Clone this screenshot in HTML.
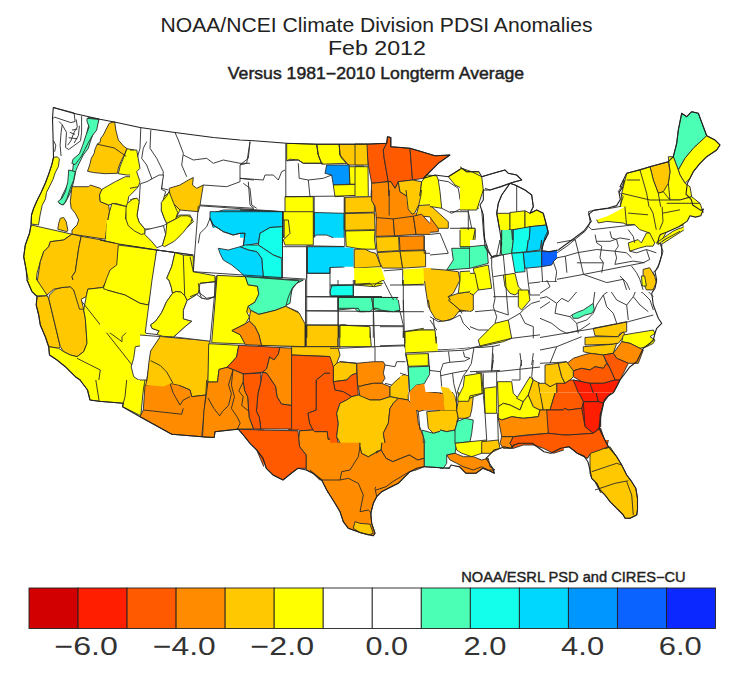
<!DOCTYPE html>
<html><head><meta charset="utf-8"><style>
html,body{margin:0;padding:0;background:#fff;overflow:hidden}
svg{display:block}
text{font-family:"Liberation Sans",sans-serif;fill:#222}
.t1{font-size:19.5px}
.t3{font-size:16.3px;stroke:#222;stroke-width:0.45px}
.lab{font-size:25.5px;fill:#333}
.cr{font-size:14px;stroke:#222;stroke-width:0.4px}
.b{fill:none;stroke:#2a2a2a;stroke-width:0.9;stroke-linejoin:round}
.l{fill:none;stroke:#2a2a2a;stroke-width:0.9;stroke-linejoin:round}
.o{fill:none;stroke:#222;stroke-width:1.1;stroke-linejoin:round}
</style></head><body>
<svg width="743" height="681" viewBox="0 0 743 681">
<text x="160.5" y="31.5" class="t1" textLength="432" lengthAdjust="spacingAndGlyphs">NOAA/NCEI Climate Division PDSI Anomalies</text>
<text x="327.9" y="54.7" class="t1" textLength="98" lengthAdjust="spacingAndGlyphs">Feb 2012</text>
<text x="227.8" y="78.9" class="t3" textLength="296.3" lengthAdjust="spacingAndGlyphs">Versus 1981−2010 Longterm Average</text>
<text x="461.3" y="582.2" class="cr" textLength="224.3" lengthAdjust="spacingAndGlyphs">NOAA/ESRL PSD and CIRES−CU</text>
<polygon points="88.3,117.5 99.2,119.2 96.7,125 94.2,131.7 90.8,140 88.3,148.3 83.3,155 80.8,160 77.5,166.7 75.8,170.8 75,175 73.3,183.3 70,193.3 65.8,201.7 63.3,205 59.2,203.3 62.5,195 66.7,186.7 70.8,178.3 72.5,171.7 73.3,165 75,158.3 80.8,155 84.2,148.3 85.8,138.3 87.5,130 89.2,123.3" fill="#4BFFB4"/>
<path d="M88.3 117.5L99.2 119.2L96.7 125L94.2 131.7L90.8 140L88.3 148.3L83.3 155L80.8 160L77.5 166.7L75.8 170.8L75 175L73.3 183.3L70 193.3L65.8 201.7L63.3 205L59.2 203.3L62.5 195L66.7 186.7L70.8 178.3L72.5 171.7L73.3 165L75 158.3L80.8 155L84.2 148.3L85.8 138.3L87.5 130L89.2 123.3L88.3 117.5" class="b"/>
<polygon points="103.3,135 109.2,123.3 114.7,121.7 115.8,130 118.3,140 123.3,145.8 127,148.7 124.2,155 120.8,161.7 118.3,168.3 117.5,173.3 105,173.7 93.3,172.5 87.5,171.3 89.7,165 91.3,158.3 94.2,153.3 95,149.2 97.5,143.7 100,142.5 100.8,138.3" fill="#FFC800"/>
<path d="M103.3 135L109.2 123.3L114.7 121.7L115.8 130L118.3 140L123.3 145.8L127 148.7L124.2 155L120.8 161.7L118.3 168.3L117.5 173.3L105 173.7L93.3 172.5L87.5 171.3L89.7 165L91.3 158.3L94.2 153.3L95 149.2L97.5 143.7L100 142.5L100.8 138.3L103.3 135" class="b"/>
<polygon points="127,148.7 134.2,150 134.2,160 133.3,175 126.7,175 118.3,173.7 120,166.7 123.3,158.3" fill="#FFFF00"/>
<path d="M127 148.7L134.2 150L134.2 160L133.3 175L126.7 175L118.3 173.7L120 166.7L123.3 158.3L127 148.7" class="b"/>
<polygon points="53.5,157.4 57.3,156.8 59.4,159 58.4,166.5 55.1,173 53,179.4 49.8,185.9 46.5,192.4 45.5,198.8 42.2,205.3 40.1,215 38.5,225 31,224 31.5,215 33.6,208.5 36.8,201 41.1,192.4 45.5,182.7 48.7,174.1 51.9,164.4" fill="#FFFF00"/>
<path d="M53.5 157.4L57.3 156.8L59.4 159L58.4 166.5L55.1 173L53 179.4L49.8 185.9L46.5 192.4L45.5 198.8L42.2 205.3L40.1 215L38.5 225L31 224L31.5 215L33.6 208.5L36.8 201L41.1 192.4L45.5 182.7L48.7 174.1L51.9 164.4L53.5 157.4" class="b"/>
<polygon points="68.7,170 75.3,171.7 73.7,180 70.3,188.3 67,198.3 64.5,203.3 62,205 57.8,201.7 62,198.3 65.3,191.7 67.8,181.7" fill="#4BFFB4"/>
<path d="M68.7 170L75.3 171.7L73.7 180L70.3 188.3L67 198.3L64.5 203.3L62 205L57.8 201.7L62 198.3L65.3 191.7L67.8 181.7L68.7 170" class="b"/>
<polygon points="72,186.7 88.7,186.7 90.3,185 100.3,188.3 102,190 99.5,195 100.3,201.7 108.7,205 109.5,211.7 107,225 105.3,239.2 72,234.2 72,230 77,225 78.7,220 75.3,213.3 71.2,208.3 70.3,201.7 71.2,193.3" fill="#FFC800"/>
<path d="M72 186.7L88.7 186.7L90.3 185L100.3 188.3L102 190L99.5 195L100.3 201.7L108.7 205L109.5 211.7L107 225L105.3 239.2L72 234.2L72 230L77 225L78.7 220L75.3 213.3L71.2 208.3L70.3 201.7L71.2 193.3L72 186.7" class="b"/>
<polygon points="60.3,218.3 63.7,217.5 66.2,221.7 67.8,230 67,231.7 57.8,229.2 58.7,223.3" fill="#FFC800"/>
<path d="M60.3 218.3L63.7 217.5L66.2 221.7L67.8 230L67 231.7L57.8 229.2L58.7 223.3L60.3 218.3" class="b"/>
<polygon points="102,189.2 115.3,181.7 125.3,176.7 135.3,176.7 138.7,183.3 137,188.3 128.7,196.7 127,206.7 115.3,203.3 108.7,205 100.3,201.7 99.5,195" fill="#FFFF00"/>
<path d="M102 189.2L115.3 181.7L125.3 176.7L135.3 176.7L138.7 183.3L137 188.3L128.7 196.7L127 206.7L115.3 203.3L108.7 205L100.3 201.7L99.5 195L102 189.2" class="b"/>
<polygon points="112,203.3 127,206.7 125.3,220 122,233.3 120.3,243.3 106.2,239.7 107,225 109.5,211.7" fill="#FFFF00"/>
<path d="M112 203.3L127 206.7L125.3 220L122 233.3L120.3 243.3L106.2 239.7L107 225L109.5 211.7L112 203.3" class="b"/>
<polygon points="31.2,225 72,234.2 63.7,240 50.3,241.7 48.7,246.7 43.7,251.7 40.3,261.7 37,273.3 36.2,282.8 28.7,282.8 26.2,270 23.7,256.7 25.3,245 29.5,233.3" fill="#FFFF00"/>
<path d="M31.2 225L72 234.2L63.7 240L50.3 241.7L48.7 246.7L43.7 251.7L40.3 261.7L37 273.3L36.2 282.8M28.7 282.8L26.2 270L23.7 256.7L25.3 245L29.5 233.3L31.2 225" class="b"/>
<polygon points="50.3,241.7 63.7,240 72,234.2 81.2,236.3 78.7,248.3 77,260 75.3,271.7 72,276.7 73.7,282.8 37,282.8 40.3,261.7 43.7,251.7 48.7,246.7" fill="#FFC800"/>
<path d="M50.3 241.7L63.7 240L72 234.2L81.2 236.3L78.7 248.3L77 260L75.3 271.7L72 276.7L73.7 282.8M37 282.8L40.3 261.7L43.7 251.7L48.7 246.7L50.3 241.7" class="b"/>
<polygon points="81.2,236.3 120.3,243.3 117.8,270 115.3,282.8 73.7,282.8 72,276.7 75.3,271.7 77,260 78.7,248.3" fill="#FFC800"/>
<path d="M81.2 236.3L120.3 243.3L117.8 270L115.3 282.8M73.7 282.8L72 276.7L75.3 271.7L77 260L78.7 248.3L81.2 236.3" class="b"/>
<polygon points="27,280 37,280 47,291.7 47,295.8 37,295.8 32,291.7" fill="#FFFF00"/>
<path d="M37 280L47 291.7L47 295.8L37 295.8L32 291.7L27 280" class="b"/>
<polygon points="37,296.7 47,295.8 48.7,298.3 60.3,346.7 58.7,348.3 48.7,346.7 45.3,336.7 40.3,325 38.7,315 36.2,305" fill="#FFC800"/>
<path d="M37 296.7L47 295.8L48.7 298.3L60.3 346.7L58.7 348.3L48.7 346.7L45.3 336.7L40.3 325L38.7 315L36.2 305L37 296.7" class="b"/>
<polygon points="49.5,295 55.3,289.2 62,287.5 70.3,286.7 73.7,290 78.7,301.7 83.7,310 85.3,318.3 86.2,330 87,343.3 83.7,351.7 77,356.7 70.3,355 63.7,351.7 60.3,346.7 48.7,298.3" fill="#FFC800"/>
<path d="M49.5 295L55.3 289.2L62 287.5L70.3 286.7L73.7 290L78.7 301.7L83.7 310L85.3 318.3L86.2 330L87 343.3L83.7 351.7L77 356.7L70.3 355L63.7 351.7L60.3 346.7L48.7 298.3L49.5 295" class="b"/>
<polygon points="37,280 107,280 102.8,287.5 87.8,289.2 86.2,296.7 81.2,299.2 83.7,309.2 79.5,309.2 73.7,290 70.3,286.7 62,287.5 53.7,289.2 47,295" fill="#FFC800"/>
<path d="M107 280L102.8 287.5L87.8 289.2L86.2 296.7L81.2 299.2L83.7 309.2L79.5 309.2L73.7 290L70.3 286.7L62 287.5L53.7 289.2L47 295L37 280" class="b"/>
<polygon points="107,280 145.8,280 145.8,392.8 93.7,392.8 85.3,383.3 75.3,376.7 65.3,366.7 57,360 49.5,355 48.7,346.7 58.7,348.3 63.7,351.7 70.3,355 77,356.7 83.7,351.7 87,343.3 86.2,330 85.3,318.3 83.7,310 86.2,296.7 87.8,289.2 102.8,287.5" fill="#FFFF00"/>
<path d="M93.7 392.8L85.3 383.3L75.3 376.7L65.3 366.7L57 360L49.5 355L48.7 346.7L58.7 348.3L63.7 351.7L70.3 355L77 356.7L83.7 351.7L87 343.3L86.2 330L85.3 318.3L83.7 310L86.2 296.7L87.8 289.2L102.8 287.5L107 280" class="b"/>
<polygon points="135.3,346.7 145.8,345 145.8,378.3 138.7,380 133.7,376.7 131.2,366.7 133.7,358.3" fill="#FFFFFF"/>
<path d="M135.3 346.7L145.8 345M145.8 378.3L138.7 380L133.7 376.7L131.2 366.7L133.7 358.3L135.3 346.7" class="b"/>
<path d="M82 301.7L132 365M103.7 290L125.3 296.7L145.8 305M103.7 328.3L122 341.7L122 336.7L128.7 330L135.3 325L138.7 330L145.8 330M77 358.3L100.3 370L97 392.8M128.7 380L125.3 392.8" class="l"/>
<polygon points="80,380 145,380 143.3,390 140.8,415.8 122.5,406.7 123.3,403.3 99.2,401.3 90,400 87.5,390" fill="#FFFF00"/>
<path d="M145 380L143.3 390L140.8 415.8L122.5 406.7L123.3 403.3L99.2 401.3L90 400L87.5 390L80 380" class="b"/>
<polygon points="161.7,336.7 210,340.8 207.5,392.8 201.7,392.8 191.7,386.7 180,381.7 171.7,380 170,373.3 161.7,366.7 153.3,361.7 150,351.7 161.7,348.3" fill="#FFC800"/>
<path d="M161.7 336.7L210 340.8L207.5 392.8M201.7 392.8L191.7 386.7L180 381.7L171.7 380L170 373.3L161.7 366.7L153.3 361.7L150 351.7L161.7 348.3L161.7 336.7" class="b"/>
<polygon points="140,335 161.7,336.7 160,346.7 151.7,350 150,360 146.7,380 140,380" fill="#FFFFFF"/>
<path d="M140 335L161.7 336.7L160 346.7L151.7 350L150 360L146.7 380L140 380" class="b"/>
<polygon points="118.3,245 156.7,250 152,290 148.3,305 140,303.3 125,295 106.7,290 103.3,288.3 106.7,278.3 110,270 116.7,265" fill="#FFFF00"/>
<path d="M118.3 245L156.7 250L152 290L148.3 305L140 303.3L125 295L106.7 290L103.3 288.3L106.7 278.3L110 270L116.7 265L118.3 245" class="b"/>
<polygon points="100,290 106.7,290 125,295 140,303.3 148.3,305 146.7,332.8 100,332.8" fill="#FFFF00"/>
<polygon points="106.7,220 121.7,220 120,244.2 105.8,241.7" fill="#FFFF00"/>
<polygon points="125,220 143.3,230 156.7,246.7 156.7,250 120,244.2 121.7,220" fill="#FFFF00"/>
<polygon points="166.7,220 190,220 180,236.7 165,246.7" fill="#FFFF00"/>
<polygon points="156.7,250 175,252.5 171.7,266.7 166.7,278.3 168.9,280 171.3,287.3 172.5,293.3 166.5,301.8 161.6,312.7 155.6,321.2 150.7,324.8 152,328.4 159.2,330.9 156.8,334.5 145.9,333.3 145.3,332.1 152,280" fill="#FFFFFF"/>
<path d="M156.7 250L175 252.5L171.7 266.7L166.7 278.3L168.9 280L171.3 287.3L172.5 293.3L166.5 301.8L161.6 312.7L155.6 321.2L150.7 324.8L152 328.4L159.2 330.9L156.8 334.5L145.9 333.3L145.3 332.1L152 280L156.7 250" class="b"/>
<polygon points="175,252.5 183.3,255 193.3,255.8 193.3,275 215,276.7 215.5,281.2 198,282.4 199.2,289.7 196.8,294.5 187.1,300.6 184.7,295.7 181,292.1 176.2,291.5 172.5,293.3 171.3,287.3 168.9,280 166.7,278.3 171.7,266.7" fill="#FFFF00"/>
<path d="M175 252.5L183.3 255L193.3 255.8L193.3 275L215 276.7L215.5 281.2L198 282.4L199.2 289.7L196.8 294.5L187.1 300.6L184.7 295.7L181 292.1L176.2 291.5L172.5 293.3L171.3 287.3L168.9 280L166.7 278.3L171.7 266.7L175 252.5" class="b"/>
<polygon points="172.5,293.3 176.2,291.5 181,292.1 184.7,295.7 187.1,300.6 183.4,310.3 183.4,318.8 191.9,321.2 185.9,326 173.8,336.9 162.9,336.3 156.8,334.5 159.2,330.9 152,328.4 150.7,324.8 155.6,321.2 161.6,312.7 166.5,301.8" fill="#FFFF00"/>
<path d="M172.5 293.3L176.2 291.5L181 292.1L184.7 295.7L187.1 300.6L183.4 310.3L183.4 318.8L191.9 321.2L185.9 326L173.8 336.9L162.9 336.3L156.8 334.5L159.2 330.9L152 328.4L150.7 324.8L155.6 321.2L161.6 312.7L166.5 301.8L172.5 293.3" class="b"/>
<polygon points="198,282.4 215.5,281.2 214.3,297 207.7,299.4 201.6,298.2 199.2,292.1" fill="#FFFFFF"/>
<path d="M198 282.4L215.5 281.2L214.3 297L207.7 299.4L201.6 298.2L199.2 292.1L198 282.4" class="b"/>
<polygon points="187.1,300.6 196.8,294.5 201.6,298.2 207.7,299.4 214.3,297 210.1,341.2 173.8,336.9 185.9,326 191.9,321.2 183.4,318.8 183.4,310.3" fill="#FFFFFF"/>
<path d="M187.1 300.6L196.8 294.5L201.6 298.2L207.7 299.4L214.3 297L210.1 341.2L173.8 336.9L185.9 326L191.9 321.2L183.4 318.8L183.4 310.3L187.1 300.6" class="b"/>
<path d="M95.8 380L99.2 401.3M126.7 380L125 396.7L123.3 403.3M100 240L120 244.2L156.7 250L193.3 255M106.7 290L125 295L140 303.3L148.3 305M125 220L143.3 230L156.7 246.7M183.3 255L184.7 295.7" class="l"/>
<polygon points="146.7,380 206.7,380 205.8,395 191.7,396.7 190,390 178.3,385 170,383.3 146.7,385" fill="#FFC800"/>
<path d="M206.7 380L205.8 395L191.7 396.7L190 390L178.3 385L170 383.3L146.7 385L146.7 380" class="b"/>
<polygon points="145,385 170,383.3 178.3,385 190,390 191.7,396.7 205.8,395 201.7,436.7 171.7,434.2 140,416.7 143.3,410" fill="#FF8C00"/>
<path d="M145 385L170 383.3L178.3 385L190 390L191.7 396.7L205.8 395L201.7 436.7L171.7 434.2L140 416.7L143.3 410L145 385" class="b"/>
<polygon points="238.3,429.2 263.8,430 263.8,466.7 256.7,450 250,443.3 243.3,435" fill="#FF5A00"/>
<path d="M238.3 429.2L263.8 430M263.8 466.7L256.7 450L250 443.3L243.3 435L238.3 429.2" class="b"/>
<path d="M143.3 410L181.7 414.2L183.3 408.3M170 383.3L173.3 393.3L180 405L183.3 400L190 396.7" class="l"/>
<polygon points="258,280 303,280 293,285 291.3,293.3 286.3,305 276.3,311.7 268,313.3 258,315" fill="#4BFFB4"/>
<path d="M303 280L293 285L291.3 293.3L286.3 305L276.3 311.7L268 313.3L258 315" class="b"/>
<polygon points="258,315.8 268,313.3 276.3,311.7 286.3,306.7 298,311.7 301.3,321.7 305.5,325.8 305.5,346.7 258,345" fill="#FFC800"/>
<path d="M258 315.8L268 313.3L276.3 311.7L286.3 306.7L298 311.7L301.3 321.7L305.5 325.8L305.5 346.7L258 345" class="b"/>
<polygon points="331.3,285 353,285 353,295.8 331.3,296.7" fill="#14FFEB"/>
<path d="M331.3 285L353 285L353 295.8L331.3 296.7L331.3 285" class="b"/>
<polygon points="354.7,280 381.8,280 381.8,285 374.7,286.7 354.7,285" fill="#FFFF00"/>
<path d="M381.8 285L374.7 286.7L354.7 285L354.7 280" class="b"/>
<polygon points="338,296.7 381.8,296.7 381.8,310.8 374.7,310 373,301.7 371.3,310 364.7,311.7 358,311.7 354.7,308.3 338,310" fill="#4BFFB4"/>
<path d="M338 296.7L381.8 296.7M381.8 310.8L374.7 310L373 301.7L371.3 310L364.7 311.7L358 311.7L354.7 308.3L338 310L338 296.7" class="b"/>
<polygon points="306.3,325.8 338,325.8 338,346.7 306.3,346.7" fill="#FFC800"/>
<path d="M306.3 325.8L338 325.8L338 346.7L306.3 346.7L306.3 325.8" class="b"/>
<polygon points="339.7,325 344.7,324.7 351.3,326.7 369.7,327.5 371.3,346.7 339.7,346.7" fill="#FFFF00"/>
<path d="M339.7 325L344.7 324.7L351.3 326.7L369.7 327.5L371.3 346.7L339.7 346.7L339.7 325" class="b"/>
<polygon points="291.3,346.7 339.7,346.7 341.3,353.3 338,356.7 334.7,356.7 291.3,355" fill="#FFC800"/>
<path d="M291.3 346.7L339.7 346.7L341.3 353.3L338 356.7L334.7 356.7L291.3 355L291.3 346.7" class="b"/>
<polygon points="339.7,353.3 341.3,363.3 356.3,363.3 356.3,376.7 351.3,380 334.7,380 333,368.3 336.3,360" fill="#FFC800"/>
<path d="M339.7 353.3L341.3 363.3L356.3 363.3L356.3 376.7L351.3 380L334.7 380L333 368.3L336.3 360L339.7 353.3" class="b"/>
<polygon points="358,363.3 381.8,361.7 381.8,380 374.7,383.3 361.3,386.7 358,380" fill="#FF8C00"/>
<path d="M358 363.3L381.8 361.7M381.8 380L374.7 383.3L361.3 386.7L358 380L358 363.3" class="b"/>
<polygon points="291.3,355 331.3,356.7 332.2,373.3 324.7,373.3 316.3,380 318,392.8 291.3,392.8" fill="#FF5A00"/>
<path d="M291.3 355L331.3 356.7L332.2 373.3L324.7 373.3L316.3 380L318 392.8M291.3 392.8L291.3 355" class="b"/>
<polygon points="332.2,373.3 336.3,378.3 351.3,380 356.3,373.3 358,392.8 318,392.8 316.3,380 324.7,373.3" fill="#FF5A00"/>
<path d="M332.2 373.3L336.3 378.3L351.3 380L356.3 373.3L358 392.8M318 392.8L316.3 380L324.7 373.3L332.2 373.3" class="b"/>
<polygon points="358,380 381.8,380 381.8,392.8 358,392.8" fill="#FF8C00"/>
<path d="M358 380L381.8 380M358 392.8L358 380" class="b"/>
<path d="M305.5 280L305.5 346.7M306.3 296.7L381.8 296.7M306.3 310.8L338 310.8M338 280L338 346.7M373 296.7L374.7 346.7M373 346.7L374.7 355L381.8 355" class="l"/>
<polygon points="258,430 298,430.8 298.8,438.3 299.7,446.7 306.3,455 306.3,468.3 298,468.3 291.3,473.3 283,480 273,475 266.3,468.3 263,458.3 258,451.7" fill="#FF5A00"/>
<path d="M258 430L298 430.8L298.8 438.3L299.7 446.7L306.3 455L306.3 468.3L298 468.3L291.3 473.3L283 480L273 475L266.3 468.3L263 458.3L258 451.7" class="b"/>
<polygon points="288.8,380 316.3,380 316.3,410 308,413.3 309.7,423.3 313,430 299.7,430.8 298.8,430 288.8,430" fill="#FF5A00"/>
<path d="M316.3 380L316.3 410L308 413.3L309.7 423.3L313 430L299.7 430.8L298.8 430L288.8 430L288.8 380" class="b"/>
<polygon points="316.3,380 333,380 334.7,388.3 346.3,395 351.3,398.3 339.7,408.3 338,418.3 341.3,430 341.3,440 328,439.2 327.2,431.7 314.7,431.7 313,430 309.7,423.3 308,413.3 316.3,410" fill="#FF5A00"/>
<path d="M333 380L334.7 388.3L346.3 395L351.3 398.3L339.7 408.3L338 418.3L341.3 430L341.3 440L328 439.2L327.2 431.7L314.7 431.7L313 430L309.7 423.3L308 413.3L316.3 410L316.3 380" class="b"/>
<polygon points="333,380 358,380 358,395 346.3,395 334.7,388.3" fill="#FF5A00"/>
<path d="M358 380L358 395L346.3 395L334.7 388.3L333 380" class="b"/>
<polygon points="358,380 381.8,380 381.8,400 366.3,398.3 358,395" fill="#FF8C00"/>
<path d="M381.8 400L366.3 398.3L358 395L358 380" class="b"/>
<polygon points="351.3,398.3 361.3,396.7 373,401.7 381.8,400.8 381.8,448.3 374.7,453.3 366.3,455 361.3,450 358,443.3 351.3,441.7 341.3,440 341.3,430 338,418.3 339.7,408.3" fill="#FFC800"/>
<path d="M351.3 398.3L361.3 396.7L373 401.7L381.8 400.8M381.8 448.3L374.7 453.3L366.3 455L361.3 450L358 443.3L351.3 441.7L341.3 440L341.3 430L338 418.3L339.7 408.3L351.3 398.3" class="b"/>
<polygon points="299.7,430.8 313,430 314.7,431.7 327.2,431.7 328,439.2 341.3,440 351.3,441.7 358,443.3 361.3,450 358,460 351.3,470 341.3,471.7 339.7,480 324.7,480 319.7,480 313,473.3 306.3,470 306.3,455 299.7,446.7 298.8,438.3" fill="#FF8C00"/>
<path d="M299.7 430.8L313 430L314.7 431.7L327.2 431.7L328 439.2L341.3 440L351.3 441.7L358 443.3L361.3 450L358 460L351.3 470L341.3 471.7L339.7 480L324.7 480L319.7 480L313 473.3L306.3 470L306.3 455L299.7 446.7L298.8 438.3L299.7 430.8" class="b"/>
<polygon points="324.7,480 339.7,480 341.3,471.7 351.3,470 358,460 361.3,450 366.3,455 374.7,453.3 381.8,450 381.8,492.8 328,492.8" fill="#FF8C00"/>
<path d="M324.7 480L339.7 480L341.3 471.7L351.3 470L358 460L361.3 450L366.3 455L374.7 453.3L381.8 450M328 492.8L324.7 480" class="b"/>
<polygon points="310,440 360,440 360,446.7 361.7,453.3 368.3,456.7 380,450 381.7,440 425,440 425,465 423.3,466.7 416.7,468.3 410,471.7 405,476.7 398.3,483.3 388.3,488.3 381.7,491.7 376.7,496.7 373.3,503.3 370.8,513.3 371.7,523.3 375,533.3 373.3,535.8 360,532.5 348.3,528.3 343.3,521.7 340,511.7 335,503.3 326.7,490 321.7,480 310,470" fill="#FF8C00"/>
<path d="M360 440L360 446.7L361.7 453.3L368.3 456.7L380 450L381.7 440M425 440L425 465L423.3 466.7L416.7 468.3L410 471.7L405 476.7L398.3 483.3L388.3 488.3L381.7 491.7L376.7 496.7L373.3 503.3L370.8 513.3L371.7 523.3L375 533.3L373.3 535.8L360 532.5L348.3 528.3L343.3 521.7L340 511.7L335 503.3L326.7 490L321.7 480L310 470" class="b"/>
<polygon points="360,440 381.7,440 380,450 368.3,456.7 361.7,453.3 360,446.7" fill="#FFC800"/>
<path d="M381.7 440L380 450L368.3 456.7L361.7 453.3L360 446.7L360 440" class="b"/>
<polygon points="355,521.7 360,523.3 370,524.2 373.3,533.3 368.3,535 360,532.5 353.3,528.3" fill="#FFC800"/>
<path d="M355 521.7L360 523.3L370 524.2L373.3 533.3L368.3 535L360 532.5L353.3 528.3L355 521.7" class="b"/>
<polygon points="425,440 433.8,440 433.8,465.8 425,465.8" fill="#4BFFB4"/>
<path d="M433.8 465.8L425 465.8L425 440" class="b"/>
<path d="M321.7 480L340 480L341.7 471.7L350 470L358.3 456.7L360 446.7M340 480L348.3 478.3L358.3 483.3L363.3 495L360 511.7L368.3 510L371.7 513.3M376.7 496.7L375 488.3L380 481.7L388.3 473.3L391.7 465L388.3 453.3L380 450M391.7 465L403.3 456.7L410 455L423.3 456.7" class="l"/>
<polygon points="389.3,400 399.3,398.3 409.3,398.3 414.3,400 417.7,411.7 419.3,430 424.3,443.3 424.3,458.3 417.7,460 409.3,455 401,458.3 392.7,461.7 386,458.3 381,450 382.7,435 384.3,425 387.7,413.3" fill="#FF8C00"/>
<path d="M389.3 400L399.3 398.3L409.3 398.3L414.3 400L417.7 411.7L419.3 430L424.3 443.3L424.3 458.3L417.7 460L409.3 455L401 458.3L392.7 461.7L386 458.3L381 450L382.7 435L384.3 425L387.7 413.3L389.3 400" class="b"/>
<polygon points="376,401.7 387.7,401.7 384.3,425 382.7,435 381,450 376,451.7" fill="#FFC800"/>
<path d="M376 401.7L387.7 401.7L384.3 425L382.7 435L381 450L376 451.7" class="b"/>
<polygon points="376,453.3 381,450 386,458.3 392.7,461.7 401,458.3 409.3,455 417.7,460 424.3,458.3 424.3,466.7 416,470 409.3,471.7 401,476.7 392.7,481.7 386,486.7 376,490" fill="#FF8C00"/>
<path d="M376 453.3L381 450L386 458.3L392.7 461.7L401 458.3L409.3 455L417.7 460L424.3 458.3L424.3 466.7L416 470L409.3 471.7L401 476.7L392.7 481.7L386 486.7L376 490" class="b"/>
<polygon points="376,383.3 389.3,383.3 391,398.3 376,400" fill="#FF8C00"/>
<path d="M376 383.3L389.3 383.3L391 398.3L376 400" class="b"/>
<polygon points="389.3,380 409.3,380 408.5,398.3 391,398.3 389.3,386.7" fill="#FFC800"/>
<path d="M409.3 380L408.5 398.3L391 398.3L389.3 386.7L389.3 380" class="b"/>
<polygon points="409.3,380 424.3,380 422.7,385 414.3,388.3 411,391.7 409.3,390" fill="#4BFFB4"/>
<path d="M424.3 380L422.7 385L414.3 388.3L411 391.7L409.3 390L409.3 380" class="b"/>
<polygon points="409.3,390 424.3,385 426,410 417.7,411.7 414.3,400 409.3,398.3" fill="#FF8C00"/>
<path d="M409.3 390L424.3 385L426 410L417.7 411.7L414.3 400L409.3 398.3L409.3 390" class="b"/>
<polygon points="424.3,390 444.3,393.3 444.3,410 426,410" fill="#FF8C00"/>
<path d="M424.3 390L444.3 393.3L444.3 410L426 410L424.3 390" class="b"/>
<polygon points="441,386.7 449.3,388.3 454.3,400 457.7,410 444.3,410 444.3,393.3" fill="#FFC800"/>
<path d="M441 386.7L449.3 388.3L454.3 400L457.7 410L444.3 410L444.3 393.3L441 386.7" class="b"/>
<polygon points="417.7,411.7 426,411.7 427.7,426.7 421,430 417.7,421.7" fill="#FFFFFF"/>
<path d="M417.7 411.7L426 411.7L427.7 426.7L421 430L417.7 421.7L417.7 411.7" class="b"/>
<polygon points="426,410 444.3,410 446,428.3 439.3,430 432.7,431.7 427.7,426.7" fill="#FFC800"/>
<path d="M426 410L444.3 410L446 428.3L439.3 430L432.7 431.7L427.7 426.7L426 410" class="b"/>
<polygon points="444.3,410 457.7,410 459.3,423.3 454.3,428.3 446,428.3" fill="#FFC800"/>
<path d="M444.3 410L457.7 410L459.3 423.3L454.3 428.3L446 428.3L444.3 410" class="b"/>
<polygon points="421,430 427.7,426.7 432.7,431.7 439.3,430 454.3,428.3 456,443.3 459.3,453.3 447.7,456.7 446,461.7 449.3,468.3 424.3,466.7 424.3,443.3" fill="#4BFFB4"/>
<path d="M421 430L427.7 426.7L432.7 431.7L439.3 430L454.3 428.3L456 443.3L459.3 453.3L447.7 456.7L446 461.7L449.3 468.3L424.3 466.7L424.3 443.3L421 430" class="b"/>
<polygon points="457.7,420 469.3,418.3 472.7,423.3 471,436.7 469.3,443.3 454.3,443.3 456,430" fill="#4BFFB4"/>
<path d="M457.7 420L469.3 418.3L472.7 423.3L471 436.7L469.3 443.3L454.3 443.3L456 430L457.7 420" class="b"/>
<polygon points="447.7,456.7 459.3,455 467.7,458.3 479.3,460 484.3,461.7 492.7,468.3 494.3,473.3 489.3,470.8 482.7,468.3 476,473.3 466,473.3 459.3,466.7 451,465 446,461.7" fill="#FF8C00"/>
<path d="M447.7 456.7L459.3 455L467.7 458.3L479.3 460L484.3 461.7L492.7 468.3L494.3 473.3L489.3 470.8L482.7 468.3L476 473.3L466 473.3L459.3 466.7L451 465L446 461.7L447.7 456.7" class="b"/>
<polygon points="454.3,443.3 481,441.7 482.7,453.3 476,455 467.7,453.3 459.3,453.3 456,443.3" fill="#FFFF00"/>
<path d="M454.3 443.3L481 441.7L482.7 453.3L476 455L467.7 453.3L459.3 453.3L456 443.3L454.3 443.3" class="b"/>
<polygon points="481,441.7 499.8,440 499.8,451.7 492.7,450 486,453.3 482.7,453.3" fill="#FFC800"/>
<path d="M481 441.7L499.8 440M499.8 451.7L492.7 450L486 453.3L482.7 453.3L481 441.7" class="b"/>
<polygon points="471,396.7 484.3,396.7 486,421.7 486,440 471,440 472.7,423.3 469.3,418.3 471,410" fill="#FFFFFF"/>
<path d="M471 396.7L484.3 396.7L486 421.7L486 440L471 440L472.7 423.3L469.3 418.3L471 410L471 396.7" class="b"/>
<polygon points="484.3,415 497.7,413.3 499.3,440 486,440" fill="#FFFFFF"/>
<path d="M484.3 415L497.7 413.3L499.3 440L486 440L484.3 415" class="b"/>
<polygon points="459.3,380 469.3,380 471.8,393.3 459.3,400" fill="#FFFF00"/>
<path d="M469.3 380L471.8 393.3L459.3 400L459.3 380" class="b"/>
<polygon points="457.7,395 469.3,393.3 471,410 469.3,418.3 457.7,420 456,410 457.7,400" fill="#FFC800"/>
<path d="M457.7 395L469.3 393.3L471 410L469.3 418.3L457.7 420L456 410L457.7 400L457.7 395" class="b"/>
<polygon points="469.3,380 482.7,380 484.3,396.7 471,396.7 469.3,388.3" fill="#FFFF00"/>
<path d="M482.7 380L484.3 396.7L471 396.7L469.3 388.3L469.3 380" class="b"/>
<polygon points="484.3,386.7 496,385 497.7,413.3 484.3,415" fill="#FFFF00"/>
<path d="M484.3 386.7L496 385L497.7 413.3L484.3 415L484.3 386.7" class="b"/>
<polygon points="439.3,380 457.7,380 457.7,388.3 449.3,388.3 442.7,386.7" fill="#FFFFFF"/>
<path d="M457.7 380L457.7 388.3L449.3 388.3L442.7 386.7L439.3 380" class="b"/>
<polygon points="424.3,380 439.3,380 441,386.7 424.3,390" fill="#FFFFFF"/>
<path d="M439.3 380L441 386.7L424.3 390L424.3 380" class="b"/>
<polygon points="497.3,382.5 512.3,382.5 513.2,390 517.3,398.3 524,403.3 524.8,409.2 537.3,409.2 539,415.8 527.3,416.7 519,417.5 509,415 504,420 499,418.3 498.2,405" fill="#FFFF00"/>
<path d="M497.3 382.5L512.3 382.5L513.2 390L517.3 398.3L524 403.3L524.8 409.2L537.3 409.2L539 415.8L527.3 416.7L519 417.5L509 415L504 420L499 418.3L498.2 405L497.3 382.5" class="b"/>
<polygon points="519,395 529,380 534,383.3 524,401.7" fill="#FFFF00"/>
<path d="M519 395L529 380L534 383.3L524 401.7L519 395" class="b"/>
<polygon points="512.3,380 522.3,380 519,393.3 514,393.3" fill="#FFFFFF"/>
<path d="M522.3 380L519 393.3L514 393.3L512.3 380" class="b"/>
<polygon points="532.3,383.3 539,383.3 544,406.7 542.3,408.3 524.8,409.2 524,403.3 534,386.7" fill="#FFC800"/>
<path d="M532.3 383.3L539 383.3L544 406.7L542.3 408.3L524.8 409.2L524 403.3L534 386.7L532.3 383.3" class="b"/>
<polygon points="539,383.3 555.7,383.3 559,396.7 560.7,406.7 550.7,410 544,408.3" fill="#FFC800"/>
<path d="M539 383.3L555.7 383.3L559 396.7L560.7 406.7L550.7 410L544 408.3L539 383.3" class="b"/>
<polygon points="499,418.3 504,420 509,415 519,417.5 527.3,416.7 539,415.8 544,408.3 545.7,411.7 547.3,431.7 527.3,435 510.7,436.7 500.7,436.7" fill="#FF8C00"/>
<path d="M499 418.3L504 420L509 415L519 417.5L527.3 416.7L539 415.8L544 408.3L545.7 411.7L547.3 431.7L527.3 435L510.7 436.7L500.7 436.7L499 418.3" class="b"/>
<polygon points="494,441.7 500.7,440 500.7,448.3 494,450" fill="#FFC800"/>
<path d="M494 441.7L500.7 440L500.7 448.3L494 450" class="b"/>
<polygon points="500.7,436.7 510.7,436.7 514,445 510.7,448.3 504,446.7 500.7,448.3" fill="#FF8C00"/>
<path d="M500.7 436.7L510.7 436.7L514 445L510.7 448.3L504 446.7L500.7 448.3L500.7 436.7" class="b"/>
<polygon points="510.7,436.7 567.3,433.3 565.7,443.3 560.7,448.3 550.7,453.3 544,450 535.7,445 527.3,443.3 519,443.3 514,445" fill="#FF5A00"/>
<path d="M510.7 436.7L567.3 433.3L565.7 443.3L560.7 448.3L550.7 453.3L544 450L535.7 445L527.3 443.3L519 443.3L514 445L510.7 436.7" class="b"/>
<polygon points="545.7,410 560.7,408.3 564,413.3 567.3,433.3 549,435 547.3,430" fill="#FF5A00"/>
<path d="M545.7 410L560.7 408.3L564 413.3L567.3 433.3L549 435L547.3 430L545.7 410" class="b"/>
<polygon points="560.7,408.3 579,410 584,430 587.3,433.3 567.3,433.3 564,413.3" fill="#FF5A00"/>
<path d="M560.7 408.3L579 410L584 430L587.3 433.3L567.3 433.3L564 413.3L560.7 408.3" class="b"/>
<polygon points="557.3,383.3 574,381.7 579,396.7 580.7,410 560.7,408.3 559,396.7" fill="#FF5A00"/>
<path d="M557.3 383.3L574 381.7L579 396.7L580.7 410L560.7 408.3L559 396.7L557.3 383.3" class="b"/>
<polygon points="574,381.7 587.3,380 594,390 597.3,401.7 600.7,403.3 600.7,426.7 592.3,433.3 587.3,433.3 584,430 580.7,410 579,396.7" fill="#FF1E00"/>
<path d="M574 381.7L587.3 380L594 390L597.3 401.7L600.7 403.3L600.7 426.7L592.3 433.3L587.3 433.3L584 430L580.7 410L579 396.7L574 381.7" class="b"/>
<polygon points="594,380 617.8,380 614,388.3 609,395 604,401.7 600.7,403.3 597.3,401.7 594,390" fill="#FF1E00"/>
<path d="M617.8 380L614 388.3L609 395L604 401.7L600.7 403.3L597.3 401.7L594 390L594 380" class="b"/>
<polygon points="567.3,433.3 592.3,433.3 600.7,428.3 604,438.3 609,448.3 600.7,450 590.7,453.3 587.3,458.3 577.3,453.3 565.7,443.3" fill="#FF5A00"/>
<path d="M567.3 433.3L592.3 433.3L600.7 428.3L604 438.3L609 448.3L600.7 450L590.7 453.3L587.3 458.3L577.3 453.3L565.7 443.3L567.3 433.3" class="b"/>
<polygon points="590.7,453.3 600.7,450 609,448.3 614,458.3 617.3,463.3 594,473.3 592.3,463.3" fill="#FFC800"/>
<path d="M590.7 453.3L600.7 450L609 448.3L614 458.3L617.3 463.3L594 473.3L592.3 463.3L590.7 453.3" class="b"/>
<polygon points="594,473.3 617.3,463.3 617.8,492.8 600.7,492.8 595.7,483.3" fill="#FFC800"/>
<path d="M594 473.3L617.3 463.3L617.8 492.8M600.7 492.8L595.7 483.3L594 473.3" class="b"/>
<polygon points="560,440 608.3,440 606.7,448.3 598.3,448.3 590,450 585,455 576.7,450 566.7,443.3 560,445" fill="#FF5A00"/>
<path d="M608.3 440L606.7 448.3L598.3 448.3L590 450L585 455L576.7 450L566.7 443.3L560 445" class="b"/>
<polygon points="590,450 598.3,448.3 606.7,448.3 610,446.7 616.7,456.7 621.7,465 626.7,475 631.7,481.7 635.8,488.3 637.5,498.3 637.5,510 636.7,515 630,518.3 625,518.3 623.3,515 616.7,508.3 610,501.7 605,495 600,490 596.7,483.3 591.7,478.3 590,473.3 590,465" fill="#FFC800"/>
<path d="M590 450L598.3 448.3L606.7 448.3L610 446.7L616.7 456.7L621.7 465L626.7 475L631.7 481.7L635.8 488.3L637.5 498.3L637.5 510L636.7 515L630 518.3L625 518.3L623.3 515L616.7 508.3L610 501.7L605 495L600 490L596.7 483.3L591.7 478.3L590 473.3L590 465L590 450" class="b"/>
<path d="M591.7 471.7L616.7 463.3L621.7 465M595 490L615 483.3L628.3 480.8M626.7 481.7L631.7 495L633.3 515" class="l"/>
<polygon points="169.2,188.3 180,185 188.3,180 193.3,177.5 192.5,185 196.7,188.3 203.3,185 200,205 198.3,211.7 180,210 173.3,203.3 170,196.7" fill="#FFC800"/>
<path d="M169.2 188.3L180 185L188.3 180L193.3 177.5L192.5 185L196.7 188.3L203.3 185L200 205L198.3 211.7L180 210L173.3 203.3L170 196.7L169.2 188.3" class="b"/>
<polygon points="161.7,198.3 168.3,193.3 173.3,203.3 180,210 176.7,216.7 171.7,221.7 166.7,221.7 163.3,215 160.8,205" fill="#FFFF00"/>
<path d="M161.7 198.3L168.3 193.3L173.3 203.3L180 210L176.7 216.7L171.7 221.7L166.7 221.7L163.3 215L160.8 205L161.7 198.3" class="b"/>
<polygon points="168.3,221.7 180,215 190,215 193.3,221.7 186.7,227.8 166.7,227.8" fill="#FFFF00"/>
<path d="M168.3 221.7L180 215L190 215L193.3 221.7L186.7 227.8M166.7 227.8L168.3 221.7" class="b"/>
<polygon points="130,150 136.7,150 140,168.3 136.7,171.7 140,181.7 138.3,186.7 130,188.3" fill="#FFFF00"/>
<path d="M130 150L136.7 150L140 168.3L136.7 171.7L140 181.7L138.3 186.7L130 188.3" class="b"/>
<polygon points="130,200 135,198.3 138.3,201.7 136.7,211.7 140,221.7 138.3,227.8 130,227.8" fill="#FFFF00"/>
<path d="M130 200L135 198.3L138.3 201.7L136.7 211.7L140 221.7L138.3 227.8" class="b"/>
<polygon points="211.7,213.3 223.3,210 238.3,210 253.8,210 253.8,227.8 213.3,227.8 210,218.3" fill="#00D7FF"/>
<path d="M211.7 213.3L223.3 210L238.3 210L253.8 210M213.3 227.8L210 218.3L211.7 213.3" class="b"/>
<path d="M175 132.5L178.3 140L183.3 153.3L181.7 165L186.7 176.7M183.3 155L193.3 160L206.7 158.3L213.3 163.3L223.3 160L240 163.3L250 163.3M250 141.7L246.7 163.3L240 165L240 181.7L226.7 186.7L203.3 185M240 178.3L253.8 180M248.3 181.7L250 205L253.8 208.3M200 205L253.8 208.3M150.8 130L150 148.3L156.7 158.3L163.3 171.7L161.7 188.3L168.3 190M140.8 127.5L140 148.3L137.5 156.7M146.7 141.7L143.3 148.3L141.7 158.3L146.7 165L151.7 178.3L146.7 185L141.7 185L140 198.3" class="l"/>
<polygon points="286.7,143.3 316.7,144.2 318.3,155 321.7,163.3 303.3,163.3 298.3,160 290,159.2 286.7,160.8" fill="#FFFF00"/>
<path d="M286.7 143.3L316.7 144.2L318.3 155L321.7 163.3L303.3 163.3L298.3 160L290 159.2L286.7 160.8L286.7 143.3" class="b"/>
<polygon points="316.7,144.2 339.2,144.2 340,155 346.7,163.3 321.7,164.2 318.3,155" fill="#FFFF00"/>
<path d="M316.7 144.2L339.2 144.2L340 155L346.7 163.3L321.7 164.2L318.3 155L316.7 144.2" class="b"/>
<polygon points="339.2,144.2 363.8,144.2 363.8,165 348.3,165 341.7,158.3 340,155" fill="#FFC800"/>
<path d="M339.2 144.2L363.8 144.2M363.8 165L348.3 165L341.7 158.3L340 155L339.2 144.2" class="b"/>
<polygon points="326.7,165 349.2,165 350,184.2 333.3,185 331.7,175 325,173.3" fill="#0096FF"/>
<path d="M326.7 165L349.2 165L350 184.2L333.3 185L331.7 175L325 173.3L326.7 165" class="b"/>
<polygon points="349.2,166.7 363.8,166.7 363.8,184.2 350,184.2" fill="#FFFF00"/>
<path d="M349.2 166.7L363.8 166.7M363.8 184.2L350 184.2L349.2 166.7" class="b"/>
<polygon points="333.3,185 363.8,184.2 363.8,195 335,196.7" fill="#FFFF00"/>
<path d="M333.3 185L363.8 184.2M363.8 195L335 196.7L333.3 185" class="b"/>
<polygon points="285,196.7 313.3,196.7 313.3,220 285,218.3" fill="#FFFF00"/>
<path d="M285 196.7L313.3 196.7L313.3 220L285 218.3L285 196.7" class="b"/>
<polygon points="284.2,218.3 313.3,220 313.3,237.8 284.2,237.8" fill="#FFFF00"/>
<path d="M284.2 218.3L313.3 220L313.3 237.8M284.2 237.8L284.2 218.3" class="b"/>
<polygon points="314.2,212.5 344.2,213.3 344.2,237.8 333.3,237.8 326.7,235 316.7,235 314.2,236.7" fill="#00D7FF"/>
<path d="M314.2 212.5L344.2 213.3L344.2 237.8M333.3 237.8L326.7 235L316.7 235L314.2 236.7L314.2 212.5" class="b"/>
<polygon points="344.2,197.5 363.8,196.7 363.8,212.5 344.2,213.3" fill="#FFC800"/>
<path d="M344.2 197.5L363.8 196.7M363.8 212.5L344.2 213.3L344.2 197.5" class="b"/>
<polygon points="344.2,214.2 363.8,213.3 363.8,230 344.2,230" fill="#FFC800"/>
<path d="M344.2 214.2L363.8 213.3M363.8 230L344.2 230L344.2 214.2" class="b"/>
<polygon points="240,210 283.3,211.7 283.3,237.8 240,237.8" fill="#00D7FF"/>
<path d="M240 210L283.3 211.7L283.3 237.8" class="b"/>
<polygon points="258.3,229.2 281.7,225.8 283.3,237.8 256.7,237.8" fill="#14FFEB"/>
<path d="M258.3 229.2L281.7 225.8L283.3 237.8M256.7 237.8L258.3 229.2" class="b"/>
<path d="M285.8 143.3L285.8 196.7M285 196.7L363.8 195.8M314.2 196.7L314.2 237.8M250 141.7L248.3 158.3L240 165M240 178.3L263.3 180L265 175L273.3 175L278.3 180L281.7 171.7L285 170M243.3 183.3L250 188.3L251.7 205L256.7 208.3M240 210L284.2 211.7M286.7 160.8L298.3 160L303.3 163.3L323.3 163.3M298.3 163.3L299.2 178.3L308.3 180L310 196.7M308.3 180L323.3 178.3L331.7 175M316.7 144.2L318.3 155L321.7 163.3M339.2 144.2L340 155L348.3 165" class="l"/>
<polygon points="210,211.7 282.5,211.7 282.5,226.7 270,227.5 260,233.3 258.3,243.3 243.3,245.8 245,233.3 240,233.3 233.3,235 223.3,231.7 213.3,225 210,218.3" fill="#00D7FF"/>
<path d="M210 211.7L282.5 211.7L282.5 226.7L270 227.5L260 233.3L258.3 243.3L243.3 245.8L245 233.3L240 233.3L233.3 235L223.3 231.7L213.3 225L210 218.3L210 211.7" class="b"/>
<polygon points="260,233.3 270,227.5 282.5,226.7 282.5,258.3 273.3,255 263.3,248.3 258.3,245" fill="#14FFEB"/>
<path d="M260 233.3L270 227.5L282.5 226.7L282.5 258.3L273.3 255L263.3 248.3L258.3 245L260 233.3" class="b"/>
<polygon points="240,246.7 245,245 258.3,245 263.3,248.3 273.3,255 281.7,258.3 281.7,278.3 263.3,277.5 261.7,258.3 256.7,251.7 248.3,250" fill="#14FFEB"/>
<path d="M240 246.7L245 245L258.3 245L263.3 248.3L273.3 255L281.7 258.3L281.7 278.3L263.3 277.5L261.7 258.3L256.7 251.7L248.3 250L240 246.7" class="b"/>
<polygon points="218.3,248.3 228.3,250 240,246.7 248.3,250 256.7,251.7 261.7,258.3 263.3,277.5 245,276.7 240,271.7 231.7,265 223.3,260 220,253.3" fill="#00D7FF"/>
<path d="M218.3 248.3L228.3 250L240 246.7L248.3 250L256.7 251.7L261.7 258.3L263.3 277.5L245 276.7L240 271.7L231.7 265L223.3 260L220 253.3L218.3 248.3" class="b"/>
<polygon points="246.7,277.5 303.3,280 296.7,283.3 291.7,290 290,303.3 283.3,306.7 273.3,310 261.7,312.8 256.7,306.7 253.3,300 255,293.3 251.7,286.7" fill="#4BFFB4"/>
<path d="M246.7 277.5L303.3 280L296.7 283.3L291.7 290L290 303.3L283.3 306.7L273.3 310L261.7 312.8L256.7 306.7L253.3 300L255 293.3L251.7 286.7L246.7 277.5" class="b"/>
<polygon points="216.7,275.8 246.7,277.5 251.7,286.7 255,293.3 253.3,300 256.7,306.7 246.7,308.3 245,312.8 215,312.8" fill="#FFFF00"/>
<path d="M216.7 275.8L246.7 277.5L251.7 286.7L255 293.3L253.3 300L256.7 306.7L246.7 308.3L245 312.8M215 312.8L216.7 275.8" class="b"/>
<polygon points="246.7,306.7 256.7,306.7 261.7,312.8 246.7,312.8" fill="#FFC800"/>
<path d="M246.7 306.7L256.7 306.7L261.7 312.8M246.7 312.8L246.7 306.7" class="b"/>
<polygon points="190,256.7 193.3,271.7 215,275.8 215,281.7 200,283.3 198.3,293.3 190,296.7" fill="#FFFF00"/>
<path d="M190 256.7L193.3 271.7L215 275.8L215 281.7L200 283.3L198.3 293.3L190 296.7" class="b"/>
<polygon points="283.3,211.7 313.3,211.7 313.3,245 285,245 283.3,240 290,233.3 288.3,220 283.3,220" fill="#FFFF00"/>
<path d="M283.3 211.7L313.3 211.7L313.3 245L285 245L283.3 240L290 233.3L288.3 220L283.3 220L283.3 211.7" class="b"/>
<polygon points="308.3,248.3 313.8,248.3 313.8,271.7 308.3,271.7" fill="#00D7FF"/>
<path d="M308.3 248.3L313.8 248.3M313.8 271.7L308.3 271.7L308.3 248.3" class="b"/>
<path d="M200 205.8L283.3 211.7M198.3 205.8L193.3 271.7M193.3 271.7L306.7 279.2M282.5 211.7L282.5 278.3M283.3 246.7L306.7 246.7L306.7 278.3M210 218.3L206.7 226.7L200 233.3L198.3 243.3M210 218.3L213.3 225L223.3 231.7L233.3 235L240 233.3L245 233.3L243.3 245.8M200 283.3L215 281.7L215 296.7L206.7 298.3L200 293.3L198.3 283.3" class="l"/>
<polygon points="307.5,246.7 353.3,246.7 353.3,266.7 330,267.5 330,273.3 307.5,273.3" fill="#00D7FF"/>
<path d="M307.5 246.7L353.3 246.7L353.3 266.7L330 267.5L330 273.3L307.5 273.3L307.5 246.7" class="b"/>
<polygon points="331.7,285.8 353.3,285 353.3,295.8 330.8,295.8 330,291.7" fill="#14FFEB"/>
<path d="M331.7 285.8L353.3 285L353.3 295.8L330.8 295.8L330 291.7L331.7 285.8" class="b"/>
<polygon points="354.2,248.3 366.7,248.3 375,253.3 380,265 370,265.8 355,266.7" fill="#FFC800"/>
<path d="M354.2 248.3L366.7 248.3L375 253.3L380 265L370 265.8L355 266.7L354.2 248.3" class="b"/>
<polygon points="355,266.7 370,265.8 381.7,266.7 383.3,280 376.7,283.3 373.3,286.7 370,283.3 355,284.2" fill="#FFFF00"/>
<path d="M355 266.7L370 265.8L381.7 266.7L383.3 280L376.7 283.3L373.3 286.7L370 283.3L355 284.2L355 266.7" class="b"/>
<polygon points="345.8,230 374.2,230 375,245 376.7,248.3 366.7,248.3 355,248.3 353.3,246.7 345.8,245" fill="#FFFF00"/>
<path d="M345.8 230L374.2 230L375 245L376.7 248.3L366.7 248.3L355 248.3L353.3 246.7L345.8 245L345.8 230" class="b"/>
<polygon points="345.8,225 374.2,225 374.2,229.2 345.8,230" fill="#FFC800"/>
<path d="M374.2 225L374.2 229.2L345.8 230L345.8 225" class="b"/>
<polygon points="375.8,225 393.3,225 395,235 375.8,236.7" fill="#FF8C00"/>
<path d="M393.3 225L395 235L375.8 236.7L375.8 225" class="b"/>
<polygon points="393.3,225 416.7,225 418.3,235 395,235" fill="#FF8C00"/>
<path d="M416.7 225L418.3 235L395 235L393.3 225" class="b"/>
<polygon points="416.7,225 423.8,225 423.8,235 418.3,235" fill="#FF8C00"/>
<path d="M423.8 235L418.3 235L416.7 225" class="b"/>
<polygon points="375.8,236.7 400,236.7 400,251.7 376.7,251.7 375,245" fill="#FFC800"/>
<path d="M375.8 236.7L400 236.7L400 251.7L376.7 251.7L375 245L375.8 236.7" class="b"/>
<polygon points="400,236.7 423.8,235.8 423.8,250 400,250.8" fill="#FF8C00"/>
<path d="M400 236.7L423.8 235.8M423.8 250L400 250.8L400 236.7" class="b"/>
<polygon points="376.7,252.5 401.7,251.7 403.3,266.7 383.3,269.2 380,265" fill="#FFC800"/>
<path d="M376.7 252.5L401.7 251.7L403.3 266.7L383.3 269.2L380 265L376.7 252.5" class="b"/>
<polygon points="401.7,251.7 423.8,250.8 423.8,267.5 403.3,267.5" fill="#FFC800"/>
<path d="M401.7 251.7L423.8 250.8M423.8 267.5L403.3 267.5L401.7 251.7" class="b"/>
<polygon points="402.5,268.3 423.8,268.3 423.8,284.2 402.5,285" fill="#FFFF00"/>
<path d="M402.5 268.3L423.8 268.3M423.8 284.2L402.5 285L402.5 268.3" class="b"/>
<polygon points="338.3,297.5 371.7,297.5 373.3,308.3 370,311.7 360,311.7 358.3,308.3 338.3,308.3" fill="#4BFFB4"/>
<path d="M338.3 297.5L371.7 297.5L373.3 308.3L370 311.7L360 311.7L358.3 308.3L338.3 308.3L338.3 297.5" class="b"/>
<polygon points="371.7,297.5 396.7,297.5 398.3,308.3 400,311.7 386.7,311.7 376.7,308.3 373.3,308.3" fill="#4BFFB4"/>
<path d="M371.7 297.5L396.7 297.5L398.3 308.3L400 311.7L386.7 311.7L376.7 308.3L373.3 308.3L371.7 297.5" class="b"/>
<polygon points="306.7,325 338.3,325 338.3,337.8 306.7,337.8" fill="#FFC800"/>
<path d="M306.7 325L338.3 325L338.3 337.8M306.7 337.8L306.7 325" class="b"/>
<polygon points="340,325 370,326.7 370,337.8 340,337.8" fill="#FFFF00"/>
<path d="M340 325L370 326.7L370 337.8M340 337.8L340 325" class="b"/>
<polygon points="403.3,331.7 423.8,328.3 423.8,337.8 403.3,337.8" fill="#FFFF00"/>
<path d="M403.3 331.7L423.8 328.3M403.3 337.8L403.3 331.7" class="b"/>
<path d="M306.7 245.8L355 246.7L366.7 248.3L375 253.3L380 265L383.3 280L390 293.3L400 311.7L403.3 325L403.3 337.8M306.7 245.8L306.7 337.8M306.7 296.7L398.3 297.5M306.7 310.8L403.3 311.7M306.7 325L403.3 325.8M338.3 296.7L338.3 337.8M373.3 296.7L373.3 337.8M307.5 273.3L330 273.3M330 285L353.3 285L383.3 283.3M330 267.5L330 295.8M353.3 246.7L353.3 296.7M403.3 267.5L403.3 311.7M390 285L423.8 285M400 311.7L423.8 311.7" class="l"/>
<polygon points="365,144.2 386.7,143.3 383.3,150 384.2,158.3 388.3,181.7 371.7,183.3 368.3,165 366.7,151.7" fill="#FF5A00"/>
<path d="M365 144.2L386.7 143.3L383.3 150L384.2 158.3L388.3 181.7L371.7 183.3L368.3 165L366.7 151.7L365 144.2" class="b"/>
<polygon points="386.7,143.3 387.5,136.7 390.8,137.5 390.8,146.7 410,148.3 412.5,180 398.3,181.7 395,188.3 390.8,181.7 388.3,181.7 384.2,158.3 383.3,150" fill="#FF5A00"/>
<path d="M386.7 143.3L387.5 136.7L390.8 137.5L390.8 146.7L410 148.3L412.5 180L398.3 181.7L395 188.3L390.8 181.7L388.3 181.7L384.2 158.3L383.3 150L386.7 143.3" class="b"/>
<polygon points="410,148.3 421.7,151.7 435,155.8 450,155 438.3,163.3 426.7,175 423.3,178.3 412.5,180" fill="#FF5A00"/>
<path d="M410 148.3L421.7 151.7L435 155.8L450 155L438.3 163.3L426.7 175L423.3 178.3L412.5 180L410 148.3" class="b"/>
<polygon points="371.7,183.3 388.3,181.7 390,216.7 376.7,217.5 375,201.7 370.8,201.7" fill="#FF8C00"/>
<path d="M371.7 183.3L388.3 181.7L390 216.7L376.7 217.5L375 201.7L370.8 201.7L371.7 183.3" class="b"/>
<polygon points="388.3,181.7 390.8,181.7 395,188.3 398.3,181.7 400,191.7 410,198.3 408.3,211.7 413.3,215 390,216.7" fill="#FF8C00"/>
<path d="M388.3 181.7L390.8 181.7L395 188.3L398.3 181.7L400 191.7L410 198.3L408.3 211.7L413.3 215L390 216.7L388.3 181.7" class="b"/>
<polygon points="398.3,181.7 412.5,180 421.7,181.7 420,195 418.3,205 415,211.7 408.3,211.7 410,198.3 400,191.7" fill="#FFC800"/>
<path d="M398.3 181.7L412.5 180L421.7 181.7L420 195L418.3 205L415 211.7L408.3 211.7L410 198.3L400 191.7L398.3 181.7" class="b"/>
<polygon points="376.7,217.5 390,216.7 393.3,221.7 395,237.8 376.7,237.8" fill="#FF8C00"/>
<path d="M376.7 217.5L390 216.7L393.3 221.7L395 237.8M376.7 237.8L376.7 217.5" class="b"/>
<polygon points="393.3,218.3 413.3,215 416.7,225 416.7,237.8 395,237.8 393.3,225" fill="#FF8C00"/>
<path d="M393.3 218.3L413.3 215L416.7 225L416.7 237.8M395 237.8L393.3 225L393.3 218.3" class="b"/>
<polygon points="413.3,215 418.3,206.7 428.3,215 438.3,226.7 438.3,231.7 416.7,233.3 416.7,225" fill="#FF8C00"/>
<path d="M413.3 215L418.3 206.7L428.3 215L438.3 226.7L438.3 231.7L416.7 233.3L416.7 225L413.3 215" class="b"/>
<polygon points="418.3,206.7 431.7,206.7 448.3,221.7 448.3,228.3 438.3,228.3 428.3,215" fill="#FFC800"/>
<path d="M418.3 206.7L431.7 206.7L448.3 221.7L448.3 228.3L438.3 228.3L428.3 215L418.3 206.7" class="b"/>
<polygon points="421.7,181.7 426.7,175 436.7,175.8 438.3,180 440,191.7 441.7,208.3 431.7,206.7 418.3,205 420,195" fill="#FFFF00"/>
<path d="M421.7 181.7L426.7 175L436.7 175.8L438.3 180L440 191.7L441.7 208.3L431.7 206.7L418.3 205L420 195L421.7 181.7" class="b"/>
<polygon points="448.3,176.7 461.7,168.3 471.7,171.7 478.8,171.7 478.8,188.3 470,188.3 461.7,188.3 455,185" fill="#FFFF00"/>
<path d="M448.3 176.7L461.7 168.3L471.7 171.7L478.8 171.7M478.8 188.3L470 188.3L461.7 188.3L455 185L448.3 176.7" class="b"/>
<polygon points="461.7,188.3 478.8,188.3 478.8,208.3 465,208.3 460,198.3" fill="#FFFF00"/>
<path d="M461.7 188.3L478.8 188.3M478.8 208.3L465 208.3L460 198.3L461.7 188.3" class="b"/>
<polygon points="461.7,228.3 475,228.3 475,237.8 461.7,237.8" fill="#FFFF00"/>
<path d="M461.7 228.3L475 228.3L475 237.8M461.7 237.8L461.7 228.3" class="b"/>
<polygon points="355,144 367,144 368,165 355,165" fill="#FFC800"/>
<path d="M355 144L367 144L368 165L355 165L355 144" class="b"/>
<polygon points="355,166.7 368,166.7 368.3,196.7 355,196.7" fill="#FFFF00"/>
<path d="M355 166.7L368 166.7L368.3 196.7L355 196.7L355 166.7" class="b"/>
<polygon points="355,196.7 370,196.7 375,228 355,228" fill="#FFC800"/>
<path d="M355 196.7L370 196.7L375 228L355 228L355 196.7" class="b"/>
<polygon points="355,229 375,229 375,238 355,238" fill="#FFFF00"/>
<path d="M355 229L375 229L375 238L355 238L355 229" class="b"/>
<path d="M438.3 180L448.3 181.7L458.3 188.3L461.7 208.3L451.7 213.3L441.7 208.3M450 211.7L468.3 211.7L471.7 228.3L450 228.3" class="l"/>
<polygon points="460,166.7 466.7,171.7 471.7,171.7 481.7,176.7 483.3,190 480,200 476.7,210 460,210" fill="#FFFF00"/>
<path d="M460 166.7L466.7 171.7L471.7 171.7L481.7 176.7L483.3 190L480 200L476.7 210L460 210" class="b"/>
<polygon points="460,228.3 475,228.3 475,245 460,245" fill="#FFFF00"/>
<path d="M460 228.3L475 228.3L475 245L460 245" class="b"/>
<polygon points="460,246.7 485,246.7 485,252.8 460,252.8" fill="#4BFFB4"/>
<path d="M460 246.7L485 246.7L485 252.8" class="b"/>
<polygon points="496.7,213.3 510,213.3 510,230 500,231.7" fill="#FFFF00"/>
<path d="M496.7 213.3L510 213.3L510 230L500 231.7L496.7 213.3" class="b"/>
<polygon points="510,212.5 525,210.8 525,228.3 510,230" fill="#FFFF00"/>
<path d="M510 212.5L525 210.8L525 228.3L510 230L510 212.5" class="b"/>
<polygon points="525,210.8 530,213.3 536.7,210 543.3,213.3 546.7,225 530,226.7 525,228.3" fill="#FFFF00"/>
<path d="M525 210.8L530 213.3L536.7 210L543.3 213.3L546.7 225L530 226.7L525 228.3L525 210.8" class="b"/>
<polygon points="500,231.7 511.7,230 513.3,252.8 500,252.8" fill="#4BFFB4"/>
<path d="M500 231.7L511.7 230L513.3 252.8M500 252.8L500 231.7" class="b"/>
<polygon points="511.7,230 530,226.7 530,252.8 513.3,252.8" fill="#14FFEB"/>
<path d="M511.7 230L530 226.7L530 252.8M513.3 252.8L511.7 230" class="b"/>
<polygon points="530,226.7 546.7,225 548.3,233.3 543.3,243.3 541.7,250 530,252.8" fill="#00D7FF"/>
<path d="M530 226.7L546.7 225L548.3 233.3L543.3 243.3L541.7 250L530 252.8L530 226.7" class="b"/>
<path d="M481.7 176.7L493.3 173.3L505 170L508.3 173.3L516.7 175L521.7 180L515 181.7L510 183.3L501.7 186.7L490 190L485 188.3M510 183.3L515 185L525 190L531.7 195L533.3 206.7L530 213.3M510 183.3L501.7 195L498.3 203.3L496.7 213.3M516.7 185L516.7 211.7M468.3 210L468.3 230M481.7 210L483.3 230L485 246.7" class="l"/>
<polygon points="420,251.7 426.7,251.7 426.7,268.3 420,268.3" fill="#FFC800"/>
<path d="M420 251.7L426.7 251.7L426.7 268.3L420 268.3" class="b"/>
<polygon points="460,230 475,230 471.7,246.7 460,246.7" fill="#FFFF00"/>
<path d="M475 230L471.7 246.7L460 246.7L460 230" class="b"/>
<polygon points="451.7,248.3 470,248.3 470,268.3 446.7,270 453.3,260" fill="#4BFFB4"/>
<path d="M451.7 248.3L470 248.3L470 268.3L446.7 270L453.3 260L451.7 248.3" class="b"/>
<polygon points="470,246.7 486.7,246.7 488.3,263.3 470,268.3" fill="#4BFFB4"/>
<path d="M470 246.7L486.7 246.7L488.3 263.3L470 268.3L470 246.7" class="b"/>
<polygon points="423.3,268.3 445,270 458.3,271.7 460,280 453.3,293.3 448.3,296.7 458.3,311.7 448.3,318.3 436.7,318.3 428.3,306.7 425,285" fill="#FFC800"/>
<path d="M423.3 268.3L445 270L458.3 271.7L460 280L453.3 293.3L448.3 296.7L458.3 311.7L448.3 318.3L436.7 318.3L428.3 306.7L425 285L423.3 268.3" class="b"/>
<polygon points="448.3,296.7 458.3,293.3 470,291.7 473.3,296.7 473.3,310 458.3,311.7" fill="#FFC800"/>
<path d="M448.3 296.7L458.3 293.3L470 291.7L473.3 296.7L473.3 310L458.3 311.7L448.3 296.7" class="b"/>
<polygon points="460,271.7 473.3,270.8 478.3,278.3 476.7,290 470,291.7 458.3,293.3 460,280" fill="#FFFF00"/>
<path d="M460 271.7L473.3 270.8L478.3 278.3L476.7 290L470 291.7L458.3 293.3L460 280L460 271.7" class="b"/>
<polygon points="471.7,268.3 488.3,264.2 491.7,286.7 480,290 476.7,278.3" fill="#FFFF00"/>
<path d="M471.7 268.3L488.3 264.2L491.7 286.7L480 290L476.7 278.3L471.7 268.3" class="b"/>
<polygon points="503.3,275 515,273.3 518.3,290 521.7,291.7 518.3,296.7 513.3,296.7 506.7,293.3" fill="#FFFF00"/>
<path d="M503.3 275L515 273.3L518.3 290L521.7 291.7L518.3 296.7L513.3 296.7L506.7 293.3L503.3 275" class="b"/>
<polygon points="518.3,290 526.7,290 528.3,300 523.3,308.3 520,306.7 518.3,296.7" fill="#FFFF00"/>
<path d="M518.3 290L526.7 290L528.3 300L523.3 308.3L520 306.7L518.3 296.7L518.3 290" class="b"/>
<polygon points="486.7,328.3 496.7,323.3 506.7,321.7 510,333.3 513.3,340 490,341.7 480,340" fill="#FFFF00"/>
<path d="M486.7 328.3L496.7 323.3L506.7 321.7L510 333.3L513.3 340L490 341.7L480 340L486.7 328.3" class="b"/>
<polygon points="420,330 430,330 433.3,340 420,342.8" fill="#FFFF00"/>
<path d="M420 330L430 330L433.3 340L420 342.8" class="b"/>
<polygon points="501.7,230 511.7,230 511.7,251.7 501.7,255" fill="#4BFFB4"/>
<path d="M511.7 230L511.7 251.7L501.7 255L501.7 230" class="b"/>
<polygon points="513.3,230 528.3,230 526.7,250 511.7,251.7" fill="#14FFEB"/>
<path d="M528.3 230L526.7 250L511.7 251.7L513.3 230" class="b"/>
<polygon points="528.3,230 543.8,230 543.8,248.3 526.7,250" fill="#00D7FF"/>
<path d="M543.8 248.3L526.7 250L528.3 230" class="b"/>
<polygon points="511.7,253.3 523.3,253.3 524.2,271.7 515,272.5" fill="#14FFEB"/>
<path d="M511.7 253.3L523.3 253.3L524.2 271.7L515 272.5L511.7 253.3" class="b"/>
<polygon points="523.3,251.7 541.7,250 543.3,265 526.7,266.7" fill="#00D7FF"/>
<path d="M523.3 251.7L541.7 250L543.3 265L526.7 266.7L523.3 251.7" class="b"/>
<polygon points="541.7,251.7 543.8,251.7 543.8,266.7 542.5,265" fill="#0A62FF"/>
<path d="M541.7 251.7L543.8 251.7M543.8 266.7L542.5 265L541.7 251.7" class="b"/>
<polygon points="483.3,230 501.7,230 500,255 491.7,256.7 486.7,250" fill="#FFFFFF"/>
<path d="M501.7 230L500 255L491.7 256.7L486.7 250L483.3 230" class="b"/>
<path d="M425 235L440 233.3L448.3 253.3L430 255L425 251.7M491.7 256.7L491.7 286.7L493.3 300L490 320L480 323.3L476.7 333.3L480 340M501.7 255L503.3 275L506.7 293.3L506.7 320L510 333.3M475 290L478.3 311.7L460 316.7L460 330L470 336.7M493.3 300L506.7 300M430 320L436.7 330L456.7 323.3L460 316.7M526.7 266.7L528.3 280L536.7 285L543.8 285M523.3 308.3L526.7 316.7L536.7 320L543.8 323.3M513.3 296.7L513.3 313.3L520 323.3L513.3 340" class="l"/>
<polygon points="380,300 398.3,300 400,310 393.3,311.7 380,310" fill="#4BFFB4"/>
<path d="M398.3 300L400 310L393.3 311.7L380 310" class="b"/>
<polygon points="428.3,300 448.3,300 460,310 453.3,318.3 443.3,321.7 435,318.3 430,310" fill="#FFC800"/>
<path d="M448.3 300L460 310L453.3 318.3L443.3 321.7L435 318.3L430 310L428.3 300" class="b"/>
<polygon points="448.3,300 473.3,300 471.7,311.7 460,310" fill="#FFC800"/>
<path d="M473.3 300L471.7 311.7L460 310L448.3 300" class="b"/>
<polygon points="405,331.7 420,330 433.3,330 436.7,338.3 437.5,350 405,351.7" fill="#FFFF00"/>
<path d="M405 331.7L420 330L433.3 330L436.7 338.3L437.5 350L405 351.7L405 331.7" class="b"/>
<polygon points="480,338.3 490,328.3 500,323.3 503.8,323.3 503.8,341.7 480,346.7" fill="#FFFF00"/>
<path d="M480 338.3L490 328.3L500 323.3L503.8 323.3M503.8 341.7L480 346.7L480 338.3" class="b"/>
<polygon points="405,353.3 428.3,353.3 428.3,366.7 407.5,366.7" fill="#FFFF00"/>
<path d="M405 353.3L428.3 353.3L428.3 366.7L407.5 366.7L405 353.3" class="b"/>
<polygon points="407.5,366.7 430,366.7 428.3,376.7 423.3,381.7 410,391.7 408.3,378.3" fill="#4BFFB4"/>
<path d="M407.5 366.7L430 366.7L428.3 376.7L423.3 381.7L410 391.7L408.3 378.3L407.5 366.7" class="b"/>
<polygon points="380,363.3 385,363.3 386.7,375 383.3,386.7 390,393.3 390,400 380,400" fill="#FF8C00"/>
<path d="M380 363.3L385 363.3L386.7 375L383.3 386.7L390 393.3L390 400L380 400" class="b"/>
<polygon points="391.7,378.3 408.3,378.3 410,393.3 398.3,398.3 390,393.3" fill="#FFC800"/>
<path d="M391.7 378.3L408.3 378.3L410 393.3L398.3 398.3L390 393.3L391.7 378.3" class="b"/>
<polygon points="396.7,400 413.3,396.7 415,412.8 395,412.8" fill="#FF8C00"/>
<path d="M396.7 400L413.3 396.7L415 412.8M395 412.8L396.7 400" class="b"/>
<polygon points="410,391.7 420,385 423.3,386.7 425,393.3 443.3,393.3 445,408.3 425,410 415,412.8 413.3,396.7" fill="#FF8C00"/>
<path d="M410 391.7L420 385L423.3 386.7L425 393.3L443.3 393.3L445 408.3L425 410L415 412.8L413.3 396.7L410 391.7" class="b"/>
<polygon points="441.7,386.7 450,388.3 453.3,395 456.7,406.7 446.7,410 445,408.3 443.3,393.3" fill="#FFC800"/>
<path d="M441.7 386.7L450 388.3L453.3 395L456.7 406.7L446.7 410L445 408.3L443.3 393.3L441.7 386.7" class="b"/>
<polygon points="456.7,390 463.3,376.7 468.3,375 480,373.3 481.7,395 473.3,398.3 470,393.3 463.3,396.7 458.3,401.7" fill="#FFFF00"/>
<path d="M456.7 390L463.3 376.7L468.3 375L480 373.3L481.7 395L473.3 398.3L470 393.3L463.3 396.7L458.3 401.7L456.7 390" class="b"/>
<polygon points="458.3,400 463.3,396.7 470,393.3 473.3,398.3 473.3,412.8 460,412.8 456.7,406.7" fill="#FFC800"/>
<path d="M458.3 400L463.3 396.7L470 393.3L473.3 398.3L473.3 412.8M460 412.8L456.7 406.7L458.3 400" class="b"/>
<polygon points="481.7,386.7 496.7,383.3 503.8,383.3 503.8,403.3 496.7,406.7 493.3,412.8 483.3,412.8" fill="#FFFF00"/>
<path d="M481.7 386.7L496.7 383.3L503.8 383.3M503.8 403.3L496.7 406.7L493.3 412.8M483.3 412.8L481.7 386.7" class="b"/>
<path d="M403.3 300L405 353.3L408.3 378.3L410 391.7M380 326.7L403.3 326.7M380 345.8L405 345M380 363.3L406.7 365M405 351.7L473.3 348.3M470 346.7L473.3 350L470 370L456.7 393.3M433.3 318.3L436.7 350M450 353.3L446.7 363.3L443.3 376.7L443.3 386.7M463.3 350L466.7 370M430 371.7L441.7 386.7M460 310L473.3 333.3L480 338.3M473.3 300L475 313.3L480 323.3L481.7 333.3M480 346.7L481.7 373.3M493.3 341.7L493.3 370M470 371.7L503.8 370" class="l"/>
<polygon points="501.7,230 511.7,230 513.3,251.7 501.7,253.3" fill="#4BFFB4"/>
<path d="M511.7 230L513.3 251.7L501.7 253.3L501.7 230" class="b"/>
<polygon points="513.3,230 530,230 528.3,250 513.3,251.7" fill="#14FFEB"/>
<path d="M530 230L528.3 250L513.3 251.7L513.3 230" class="b"/>
<polygon points="530,230 548.3,230 545,236.7 541.7,250 528.3,250" fill="#00D7FF"/>
<path d="M548.3 230L545 236.7L541.7 250L528.3 250L530 230" class="b"/>
<polygon points="513.3,253.3 523.3,253.3 525,271.7 515,271.7" fill="#14FFEB"/>
<path d="M513.3 253.3L523.3 253.3L525 271.7L515 271.7L513.3 253.3" class="b"/>
<polygon points="523.3,252.5 540.8,250.8 541.7,265 525,268.3" fill="#00D7FF"/>
<path d="M523.3 252.5L540.8 250.8L541.7 265L525 268.3L523.3 252.5" class="b"/>
<polygon points="541.7,250.8 550,251.7 558.3,250 560,255 551.7,263.3 541.7,265" fill="#0A62FF"/>
<path d="M541.7 250.8L550 251.7L558.3 250L560 255L551.7 263.3L541.7 265L541.7 250.8" class="b"/>
<polygon points="503.3,275 515,273.3 516.7,286.7 521.7,290 521.7,296.7 516.7,296.7 510,293.3 505,285" fill="#FFFF00"/>
<path d="M503.3 275L515 273.3L516.7 286.7L521.7 290L521.7 296.7L516.7 296.7L510 293.3L505 285L503.3 275" class="b"/>
<polygon points="520,290 528.3,291.7 529.2,301.7 521.7,308.3 518.3,305" fill="#FFFF00"/>
<path d="M520 290L528.3 291.7L529.2 301.7L521.7 308.3L518.3 305L520 290" class="b"/>
<polygon points="500,320 508.3,320 510,333.3 513.3,340 500,341.7" fill="#FFFF00"/>
<path d="M500 320L508.3 320L510 333.3L513.3 340L500 341.7" class="b"/>
<polygon points="573.3,313.3 583.3,310 590,305 593.3,305 593.3,313.3 586.7,316.7 578.3,318.3 573.3,316.7" fill="#4BFFB4"/>
<path d="M573.3 313.3L583.3 310L590 305L593.3 305L593.3 313.3L586.7 316.7L578.3 318.3L573.3 316.7L573.3 313.3" class="b"/>
<polygon points="593.3,330 623.8,323.3 623.8,342.8 586.7,342.8 586.7,336.7" fill="#FFC800"/>
<path d="M593.3 330L623.8 323.3M586.7 342.8L586.7 336.7L593.3 330" class="b"/>
<path d="M541.7 250.8L543.3 300L546.7 303.3M500 313.3L516.7 310L526.7 308.3L536.7 305L546.7 303.3L555 298.3L566.7 300L570 291.7L573.3 286.7L578.3 276.7M566.7 300L558.3 316.7L541.7 330L533.3 335L530 342.8M525 271.7L528.3 291.7M500 253.3L513.3 253.3M528.3 271.7L541.7 273.3L556.7 271.7L570 271.7M543.3 286.7L555 283.3L566.7 283.3L573.3 286.7M500 296.7L510 293.3M510 308.3L530 323.3L546.7 330" class="l"/>
<polygon points="500,320 508.3,320 510,340 500,341.7" fill="#FFFF00"/>
<path d="M508.3 320L510 340L500 341.7" class="b"/>
<polygon points="593.3,329.2 623.8,323.3 623.8,333.3 593.3,338.3" fill="#FFC800"/>
<path d="M593.3 329.2L623.8 323.3M623.8 333.3L593.3 338.3L593.3 329.2" class="b"/>
<polygon points="583.3,338.3 623.8,333.3 620,341.7 615,353.3 603.3,353.3 593.3,355 583.3,351.7" fill="#FFC800"/>
<path d="M583.3 338.3L623.8 333.3L620 341.7L615 353.3L603.3 353.3L593.3 355L583.3 351.7L583.3 338.3" class="b"/>
<polygon points="616.7,341.7 623.8,340 623.8,375 616.7,363.3 615,353.3" fill="#FF8C00"/>
<path d="M616.7 341.7L623.8 340M623.8 375L616.7 363.3L615 353.3L616.7 341.7" class="b"/>
<polygon points="563.3,363.3 575,356.7 586.7,355 588.3,361.7 583.3,368.3 573.3,368.3 570,370" fill="#FF8C00"/>
<path d="M563.3 363.3L575 356.7L586.7 355L588.3 361.7L583.3 368.3L573.3 368.3L570 370L563.3 363.3" class="b"/>
<polygon points="588.3,355 600,353.3 603.3,366.7 593.3,370 588.3,363.3" fill="#FF8C00"/>
<path d="M588.3 355L600 353.3L603.3 366.7L593.3 370L588.3 363.3L588.3 355" class="b"/>
<polygon points="603.3,355 616.7,358.3 621.7,375 613.3,381.7 608.3,375 605,366.7" fill="#FF5A00"/>
<path d="M603.3 355L616.7 358.3L621.7 375L613.3 381.7L608.3 375L605 366.7L603.3 355" class="b"/>
<polygon points="573.3,370 583.3,368.3 590,370 593.3,380 586.7,381.7 580,378.3" fill="#FF5A00"/>
<path d="M573.3 370L583.3 368.3L590 370L593.3 380L586.7 381.7L580 378.3L573.3 370" class="b"/>
<polygon points="590,370 603.3,366.7 610,375 605,381.7 593.3,383.3 591.7,376.7" fill="#FF5A00"/>
<path d="M590 370L603.3 366.7L610 375L605 381.7L593.3 383.3L591.7 376.7L590 370" class="b"/>
<polygon points="545,365 556.7,363.3 563.3,375 558.3,381.7 550,383.3 545,386.7" fill="#FFC800"/>
<path d="M545 365L556.7 363.3L563.3 375L558.3 381.7L550 383.3L545 386.7L545 365" class="b"/>
<polygon points="558.3,363.3 563.3,361.7 573.3,370 580,378.3 571.7,380 563.3,376.7" fill="#FFC800"/>
<path d="M558.3 363.3L563.3 361.7L573.3 370L580 378.3L571.7 380L563.3 376.7L558.3 363.3" class="b"/>
<polygon points="556.7,385 571.7,381.7 580,378.3 583.3,390 580,406.7 571.7,408.3 560,408.3 556.7,395" fill="#FF5A00"/>
<path d="M556.7 385L571.7 381.7L580 378.3L583.3 390L580 406.7L571.7 408.3L560 408.3L556.7 395L556.7 385" class="b"/>
<polygon points="580,378.3 593.3,383.3 605,381.7 616.7,378.3 608.3,393.3 601.7,400 598.3,400 583.3,398.3 581.7,390" fill="#FF1E00"/>
<path d="M580 378.3L593.3 383.3L605 381.7L616.7 378.3L608.3 393.3L601.7 400L598.3 400L583.3 398.3L581.7 390L580 378.3" class="b"/>
<polygon points="581.7,400 600,401.7 603.3,401.7 600,413.3 598.3,420 600,432.8 583.3,432.8 581.7,413.3" fill="#FF1E00"/>
<path d="M581.7 400L600 401.7L603.3 401.7L600 413.3L598.3 420L600 432.8M583.3 432.8L581.7 413.3L581.7 400" class="b"/>
<polygon points="560,408.3 580,406.7 581.7,413.3 583.3,432.8 563.3,432.8" fill="#FF5A00"/>
<path d="M560 408.3L580 406.7L581.7 413.3L583.3 432.8M563.3 432.8L560 408.3" class="b"/>
<polygon points="546.7,410 560,408.3 563.3,432.8 546.7,432.8" fill="#FF5A00"/>
<path d="M546.7 410L560 408.3L563.3 432.8M546.7 432.8L546.7 410" class="b"/>
<polygon points="538.3,383.3 546.7,388.3 550,383.3 555,385 556.7,395 560,408.3 546.7,410 543.3,400 538.3,390" fill="#FFC800"/>
<path d="M538.3 383.3L546.7 388.3L550 383.3L555 385L556.7 395L560 408.3L546.7 410L543.3 400L538.3 390L538.3 383.3" class="b"/>
<polygon points="531.7,375 538.3,383.3 538.3,390 543.3,400 546.7,410 538.3,411.7 528.3,406.7 525,400 528.3,386.7" fill="#FFC800"/>
<path d="M531.7 375L538.3 383.3L538.3 390L543.3 400L546.7 410L538.3 411.7L528.3 406.7L525 400L528.3 386.7L531.7 375" class="b"/>
<polygon points="516.7,390 531.7,375 528.3,386.7 525,400 520,400 515,395" fill="#FFFF00"/>
<path d="M516.7 390L531.7 375L528.3 386.7L525 400L520 400L515 395L516.7 390" class="b"/>
<polygon points="500,383.3 510,383.3 513.3,396.7 520,403.3 533.3,406.7 538.3,413.3 525,416.7 510,413.3 500,405" fill="#FFFF00"/>
<path d="M500 383.3L510 383.3L513.3 396.7L520 403.3L533.3 406.7L538.3 413.3L525 416.7L510 413.3L500 405" class="b"/>
<polygon points="500,416.7 510,415 525,418.3 538.3,413.3 546.7,410 546.7,432.8 500,432.8" fill="#FF8C00"/>
<path d="M500 416.7L510 415L525 418.3L538.3 413.3L546.7 410L546.7 432.8" class="b"/>
<path d="M500 341.7L623.8 326.7M500 370L558.3 363.3L570 360L583.3 353.3M521.7 341.7L520 353.3L521.7 370L516.7 390M533.3 338.3L533.3 370L531.7 375M548.3 360L558.3 350L571.7 343.3L580 340M500 353.3L520 353.3M533.3 353.3L550 340L563.3 333.3" class="l"/>
<polygon points="600,326.7 626.7,321.7 626.7,331.7 620,333.3 600,336.7" fill="#FFC800"/>
<path d="M600 326.7L626.7 321.7L626.7 331.7L620 333.3L600 336.7" class="b"/>
<polygon points="600,337.5 620,333.3 623.3,336.7 616.7,343.3 600,345" fill="#FFC800"/>
<path d="M600 337.5L620 333.3L623.3 336.7L616.7 343.3L600 345" class="b"/>
<polygon points="600,345.8 616.7,343.3 613.3,353.3 600,355" fill="#FFC800"/>
<path d="M600 345.8L616.7 343.3L613.3 353.3L600 355" class="b"/>
<polygon points="623.3,336.7 626.7,331.7 641.7,331.7 653.3,330 656.7,333.3 655,340 650,343.3 643.3,348.3 640,346.7 630,343.3" fill="#FFFF00"/>
<path d="M623.3 336.7L626.7 331.7L641.7 331.7L653.3 330L656.7 333.3L655 340L650 343.3L643.3 348.3L640 346.7L630 343.3L623.3 336.7" class="b"/>
<polygon points="613.3,353.3 616.7,343.3 630,343.3 640,346.7 643.3,348.3 640,355 636.7,361.7 633.3,363.3 616.7,358.3" fill="#FF8C00"/>
<path d="M613.3 353.3L616.7 343.3L630 343.3L640 346.7L643.3 348.3L640 355L636.7 361.7L633.3 363.3L616.7 358.3L613.3 353.3" class="b"/>
<polygon points="603.3,356.7 613.3,353.3 616.7,358.3 633.3,363.3 630,366.7 625,373.3 620,380 610,376.7 605,368.3" fill="#FF5A00"/>
<path d="M603.3 356.7L613.3 353.3L616.7 358.3L633.3 363.3L630 366.7L625 373.3L620 380L610 376.7L605 368.3L603.3 356.7" class="b"/>
<polygon points="600,358.3 603.3,356.7 610,376.7 600,380" fill="#FF5A00"/>
<path d="M600 358.3L603.3 356.7L610 376.7L600 380" class="b"/>
<polygon points="600,383.3 610,376.7 620,380 616.7,386.7 613.3,392.8 600,392.8" fill="#FF1E00"/>
<path d="M600 383.3L610 376.7L620 380L616.7 386.7L613.3 392.8" class="b"/>
<polygon points="643.3,280 655,280 651.7,290 646.7,288.3 643.3,283.3" fill="#FFC800"/>
<path d="M655 280L651.7 290L646.7 288.3L643.3 283.3L643.3 280" class="b"/>
<path d="M600 325L626.7 320.8L655 311.7M630 320L655 311.7" class="l"/>
<polygon points="623.3,180 683.8,180 683.8,225 676.7,226.7 666.7,231.7 660,243.3 655,250 646.7,248.3 645,233.3 636.7,226.7 626.7,225 623.3,223.3 610,223.3 598.3,221.7 600,218.3 616.7,213.3 626.7,206.7 626.7,196.7 623.3,188.3" fill="#FFFF00"/>
<path d="M683.8 225L676.7 226.7L666.7 231.7L660 243.3L655 250L646.7 248.3L645 233.3L636.7 226.7L626.7 225L623.3 223.3L610 223.3L598.3 221.7L600 218.3L616.7 213.3L626.7 206.7L626.7 196.7L623.3 188.3L623.3 180" class="b"/>
<polygon points="630,250 638.3,243.3 645,241.7 646.7,248.3 636.7,250 631.7,251.7" fill="#FFFF00"/>
<path d="M630 250L638.3 243.3L645 241.7L646.7 248.3L636.7 250L631.7 251.7L630 250" class="b"/>
<polygon points="660,243.3 676.7,230 683.8,226.7 683.8,230 668.3,240 661.7,244.2" fill="#FFFF00"/>
<path d="M660 243.3L676.7 230L683.8 226.7M683.8 230L668.3 240L661.7 244.2L660 243.3" class="b"/>
<polygon points="651.7,180 666.7,180 661.7,190 660,200 656.7,190" fill="#FFC800"/>
<path d="M666.7 180L661.7 190L660 200L656.7 190L651.7 180" class="b"/>
<polygon points="645,266.7 651.7,268.3 656.7,278.3 655,288.3 648.3,285 645,276.7" fill="#FFC800"/>
<path d="M645 266.7L651.7 268.3L656.7 278.3L655 288.3L648.3 285L645 276.7L645 266.7" class="b"/>
<polygon points="641.7,278.3 646.7,276.7 646.7,285 641.7,283.3" fill="#FFFF00"/>
<path d="M641.7 278.3L646.7 276.7L646.7 285L641.7 283.3L641.7 278.3" class="b"/>
<path d="M660 243.3L661.7 255L658.3 266.7L655 271.7M626.7 200L648.3 198.3L660 200L683.8 196.7M626.7 206.7L651.7 208.3L683.8 208.3M648.3 180L650 205L653.3 223.3L660 233.3M660 201.7L661.7 221.7L666.7 230" class="l"/>
<polygon points="681.7,113.3 686.7,116.7 691.7,111.7 698.3,113.3 706.7,135.8 693.3,148.3 685,158.3 678.3,170 673.3,156.7 676.7,143.3 678.3,130" fill="#4BFFB4"/>
<path d="M681.7 113.3L686.7 116.7L691.7 111.7L698.3 113.3L706.7 135.8L693.3 148.3L685 158.3L678.3 170L673.3 156.7L676.7 143.3L678.3 130L681.7 113.3" class="b"/>
<polygon points="706.7,135.8 715,140 720,145 716.7,150 706.7,156.7 700,163.3 693.3,171.7 690,178.3 685,183.3 680,175 678.3,170 685,158.3 693.3,148.3" fill="#FFFF00"/>
<path d="M706.7 135.8L715 140L720 145L716.7 150L706.7 156.7L700 163.3L693.3 171.7L690 178.3L685 183.3L680 175L678.3 170L685 158.3L693.3 148.3L706.7 135.8" class="b"/>
<polygon points="668.3,156.7 673.3,156.7 678.3,170 680,175 685,183.3 690,186.7 691.7,196.7 680,200 670,200 668.3,183.3 670,171.7" fill="#FFFF00"/>
<path d="M668.3 156.7L673.3 156.7L678.3 170L680 175L685 183.3L690 186.7L691.7 196.7L680 200L670 200L668.3 183.3L670 171.7L668.3 156.7" class="b"/>
<polygon points="650,166.7 668.3,161.7 670,171.7 668.3,183.3 663.3,191.7 658.3,193.3 653.3,180" fill="#FFC800"/>
<path d="M650 166.7L668.3 161.7L670 171.7L668.3 183.3L663.3 191.7L658.3 193.3L653.3 180L650 166.7" class="b"/>
<polygon points="626.7,173.3 650,166.7 653.3,180 658.3,193.3 663.3,191.7 670,200 680,200 691.7,196.7 700,203.3 703.3,212.8 620,212.8 621.7,193.3" fill="#FFFF00"/>
<path d="M626.7 173.3L650 166.7L653.3 180L658.3 193.3L663.3 191.7L670 200L680 200L691.7 196.7L700 203.3L703.3 212.8M620 212.8L621.7 193.3L626.7 173.3" class="b"/>
<polygon points="683,205 692.7,205 700.8,210.4 703.4,209 700.8,215.8 695.4,217.1 690,215.8 687.3,221.1 679.2,226.5 667.1,231.9 660.4,234.6 660,230 683,222" fill="#FFFF00"/>
<path d="M640 170L646.7 193.3L650 212.8M621.7 193.3L650 200L670 200M626.7 180L640 180M658.3 193.3L661.7 212.8M666.7 203.3L700 203.3" class="l"/>
<polygon points="217.1,275.4 245.4,276.7 248.1,284.8 257.5,286.2 258.8,294.2 254.8,302.3 248.1,306.3 246.7,311.7 249.4,317.1 245.4,323.8 231.9,330.6 240,334.6 245.4,344 211.7,342.7" fill="#FFFF00"/>
<path d="M217.1 275.4L245.4 276.7L248.1 284.8L257.5 286.2L258.8 294.2L254.8 302.3L248.1 306.3L246.7 311.7L249.4 317.1L245.4 323.8L231.9 330.6L240 334.6L245.4 344L211.7 342.7L217.1 275.4" class="b"/>
<polygon points="245.4,276.7 299.2,280.8 292.5,287.5 288.4,296.9 285.8,306.3 275,310.4 258.8,314.4 250.8,310.4 248.1,306.3 254.8,302.3 258.8,294.2 257.5,286.2 248.1,284.8" fill="#4BFFB4"/>
<path d="M245.4 276.7L299.2 280.8L292.5 287.5L288.4 296.9L285.8 306.3L275 310.4L258.8 314.4L250.8 310.4L248.1 306.3L254.8 302.3L258.8 294.2L257.5 286.2L248.1 284.8L245.4 276.7" class="b"/>
<polygon points="285.8,306.3 299.2,313.1 305,323.8 305,346.7 261.5,345.4 258.8,334.6 254.8,326.5 249.4,321.1 249.4,317.1 250.8,310.4 258.8,314.4 275,310.4" fill="#FFC800"/>
<path d="M285.8 306.3L299.2 313.1L305 323.8L305 346.7L261.5 345.4L258.8 334.6L254.8 326.5L249.4 321.1L249.4 317.1L250.8 310.4L258.8 314.4L275 310.4L285.8 306.3" class="b"/>
<polygon points="231.9,330.6 245.4,323.8 249.4,321.1 254.8,326.5 258.8,334.6 261.5,345.4 245.4,344.7 240,334.6" fill="#FF8C00"/>
<path d="M231.9 330.6L245.4 323.8L249.4 321.1L254.8 326.5L258.8 334.6L261.5 345.4L245.4 344.7L240 334.6L231.9 330.6" class="b"/>
<polygon points="210.9,343.8 238.8,345.3 236.6,357 227,367.3 219,369.5 217.5,382 207.9,382 208.7,343.8" fill="#FFFF00"/>
<path d="M210.9 343.8L238.8 345.3L236.6 357L227 367.3L219 369.5L217.5 382L207.9 382L208.7 343.8L210.9 343.8" class="b"/>
<polygon points="238.8,345.3 279.9,347.5 278.4,354.1 274,360 269.6,357 266.7,368.8 262.3,372.4 243.2,373.9 234.4,370.2 227,367.3 236.6,357" fill="#FF5A00"/>
<path d="M238.8 345.3L279.9 347.5L278.4 354.1L274 360L269.6 357L266.7 368.8L262.3 372.4L243.2 373.9L234.4 370.2L227 367.3L236.6 357L238.8 345.3" class="b"/>
<polygon points="279.9,347.5 291.6,348.2 291.6,405.5 281.4,404 277,396.7 275.5,386.4 266.7,373.2 262.3,372.4 266.7,368.8 269.6,357 274,360 278.4,354.1" fill="#FF8C00"/>
<path d="M279.9 347.5L291.6 348.2L291.6 405.5L281.4 404L277 396.7L275.5 386.4L266.7 373.2L262.3 372.4L266.7 368.8L269.6 357L274 360L278.4 354.1L279.9 347.5" class="b"/>
<polygon points="262.3,372.4 266.7,373.2 275.5,386.4 277,396.7 281.4,404 291.6,405.5 291.6,429 260.8,429 259.3,417.2 256.4,411.4 257.9,393.7 260.8,382" fill="#FF5A00"/>
<path d="M262.3 372.4L266.7 373.2L275.5 386.4L277 396.7L281.4 404L291.6 405.5L291.6 429L260.8 429L259.3 417.2L256.4 411.4L257.9 393.7L260.8 382L262.3 372.4" class="b"/>
<polygon points="243.2,373.9 260.8,373.2 260.8,382 257.9,393.7 256.4,411.4 259.3,417.2 260.8,429 253.5,429 249.1,417.2 247.6,396.7 244.6,390.8 243.2,382" fill="#FF5A00"/>
<path d="M243.2 373.9L260.8 373.2L260.8 382L257.9 393.7L256.4 411.4L259.3 417.2L260.8 429L253.5 429L249.1 417.2L247.6 396.7L244.6 390.8L243.2 382L243.2 373.9" class="b"/>
<polygon points="207.9,382 217.5,382 219,369.5 227,367.3 234.4,370.2 243.2,373.9 243.2,382 244.6,390.8 247.6,396.7 249.1,417.2 253.5,429 237.3,429 215,431.7 214.2,437.5 202.5,437 204,410 206,396.7" fill="#FF8C00"/>
<path d="M207.9 382L217.5 382L219 369.5L227 367.3L234.4 370.2L243.2 373.9L243.2 382L244.6 390.8L247.6 396.7L249.1 417.2L253.5 429L237.3 429L215 431.7L214.2 437.5L202.5 437L204 410L206 396.7L207.9 382" class="b"/>
<path d="M208 398L213.8 408.4L219.7 415.8L222.6 411.4L228.5 405.5L231.4 393.7L228.5 384.9L232.9 370.2M232.9 370.2L231.4 384.9L234.4 396.7L231.4 408.4L237.3 417.2L240.2 423.1L237.3 429M243.2 382L238.8 390.8L243.2 396.7L241.7 405.5L249.1 411.4" class="l"/>
<path d="M558.3 250.8L575 240L585 233.3L593.3 228.3L595 223.3M575 239.2L575.8 251.7L578.3 261.7L580.8 275M593.3 228.3L638.3 225M580.8 275L615 270L641.7 265M585 233.3L585 238.3L611.7 232.5L638.3 229.2M578.3 251.7L590 250.8L598.3 253.3L601.7 250L600 240L596.7 238.3L610 238.3L616.7 243.3L613.3 253.3L626.7 255L633.3 251.7M611.7 232.5L613.3 238.3L620 240L630 235L636.7 230M601.7 253.3L603.3 263.3L613.3 261.7L615 270M580 263.3L601.7 263.3M540 266.7L551.7 265L558.3 258.3L558.3 270L555 275L558.3 286.7M540 286.7L545 290L553.3 288.3L558.3 286.7L568.3 290L580 275M555 275L563.3 275L568.3 271.7L578.3 273.3M545 290L548.3 300L540 306.7M553.3 288.3L560 300L573.3 295L580 290M580 275L578.3 285L573.3 293.3L568.3 291.7L561.7 298.3L563.3 305L570 313.3L573.3 318.3L581.7 316.7L590 313.3L591.7 303.3L598.3 293.3L603.3 285L606.7 276.7L611.7 271.7L615 270M595 273.3L596.7 285L601.7 293.3M615 270L618.3 275L625 278.3L630 275L633.3 270L640 270M570 313.3L556.7 325L550 332.8M561.7 332.8L590 328.3L623.3 323.3L656.7 318.3M591.7 303.3L596.7 313.3L600 320L595 326.7M603.3 285L610 296.7L613.3 306.7L616.7 316.7L616.7 323.3M613.3 290L620 296.7L626.7 293.3L630 283.3L633.3 280M626.7 293.3L633.3 303.3L640 313.3L646.7 316.7M550 320L570 313.3M636.7 266.7L640 273.3L638.3 280L635 286.7L636.7 295L640 300L643.3 306.7M640 258.3L646.7 250L656.7 246.7M646.7 250L650 261.7L655 270" class="l"/>
<polygon points="437,322 452,321 460,314 472,311 500,318 554,316 554,373 437,373" fill="#FFFFFF"/>
<polygon points="478.3,336.7 485,331.7 490,323.3 500,321.7 508.3,320 511.7,340 493.3,343.3 480,346.7" fill="#FFFF00"/>
<path d="M478.3 336.7L485 331.7L490 323.3L500 321.7L508.3 320L511.7 340L493.3 343.3L480 346.7L478.3 336.7" class="b"/>
<polygon points="430,330 435,330 436.7,350 430,351.7" fill="#FFFF00"/>
<path d="M430 330L435 330L436.7 350L430 351.7" class="b"/>
<path d="M430 351.7L473.3 347.5L513.3 340L553.8 336.7M440 373.3L465 373.3L496.7 370L530 366.7L553.8 363.3M475.8 311.7L473.3 318.3L475 331.7L473.3 346.7L470 353.3L471.7 360L468.3 368.3L465 373.3M448.3 351.7L446.7 360L440 363.3L441.7 373.3M465 350L466.7 356.7L463.3 363.3L468.3 368.3M491.7 345.8L493.3 356.7L491.7 370M523.3 341.7L520 353.3L521.7 366.7M536.7 338.3L533.3 353.3L531.7 365M546.7 356.7L553.8 353.3M460 315L463.3 323.3L473.3 333.3L478.3 336.7M493.3 311.7L491.7 321.7M508.3 320L506.7 311.7M520 311.7L530 320L533.3 335M533.3 318.3L543.3 315L553.8 311.7M430 316.7L438.3 321.7L450 320L460 315M430 368.3L440 373.3" class="l"/>
<polygon points="115,221.3 126,219.1 128.2,225.7 134.8,231.2 144.8,234.5 151.4,241.1 156.9,247.7 120,244.2 115,243.5" fill="#FFFF00"/>
<polygon points="140.3,183.8 147,181.6 159.1,175 163.5,175 161.3,189.3 165.7,191.5 162.4,202.5 161.3,210.3 164.6,219.1 166.8,223.5 163.5,225.7 153.6,229 144.8,229 139.2,222.4 137,215.8 138.1,208.1 139.2,201.4" fill="#FFFFFF"/>
<path d="M140.3 183.8L147 181.6L159.1 175L163.5 175L161.3 189.3L165.7 191.5L162.4 202.5L161.3 210.3L164.6 219.1L166.8 223.5L163.5 225.7L153.6 229L144.8 229L139.2 222.4L137 215.8L138.1 208.1L139.2 201.4L140.3 183.8" class="b"/>
<polygon points="144.8,230.1 163.5,225.7 165.7,234.5 162.4,245.5 156.9,247.7 151.4,241.1 144.8,234.5" fill="#FFFFFF"/>
<path d="M144.8 230.1L163.5 225.7L165.7 234.5L162.4 245.5L156.9 247.7L151.4 241.1L144.8 234.5L144.8 230.1" class="b"/>
<polygon points="127.1,203.7 132.6,199.2 137,198.1 139.2,201.4 138.1,208.1 137,215.8 139.2,222.4 144.8,229 144.8,233.4 141.4,234.5 134.8,231.2 128.2,225.7 126,219.1 126,208.1" fill="#FFFF00"/>
<path d="M127.1 203.7L132.6 199.2L137 198.1L139.2 201.4L138.1 208.1L137 215.8L139.2 222.4L144.8 229L144.8 233.4L141.4 234.5L134.8 231.2L128.2 225.7L126 219.1L126 208.1L127.1 203.7" class="b"/>
<polygon points="161.3,202.5 166.8,195.9 169,191.5 173.4,202.5 176.7,210.3 177.8,212.5 175.6,219.1 166.8,223.5 164.6,219.1 161.3,210.3" fill="#FFFF00"/>
<path d="M161.3 202.5L166.8 195.9L169 191.5L173.4 202.5L176.7 210.3L177.8 212.5L175.6 219.1L166.8 223.5L164.6 219.1L161.3 210.3L161.3 202.5" class="b"/>
<polygon points="166.8,223.5 175.6,219.1 181.1,215.8 187.7,215.8 192.1,218 191,222.4 183.3,232.3 174.5,241.1 164.6,246.6 162.4,245.5 165.7,234.5" fill="#FFFF00"/>
<path d="M166.8 223.5L175.6 219.1L181.1 215.8L187.7 215.8L192.1 218L191 222.4L183.3 232.3L174.5 241.1L164.6 246.6L162.4 245.5L165.7 234.5L166.8 223.5" class="b"/>
<path d="M100 240L120 244.2L156.7 250L193.3 255" class="l"/>
<polygon points="331,348 453,347 453,442 331,442" fill="#FFFFFF"/>
<polygon points="330,348.3 338.3,348.3 340,355 336.7,363.3 333.3,366.7 330,365" fill="#FFC800"/>
<path d="M330 348.3L338.3 348.3L340 355L336.7 363.3L333.3 366.7L330 365" class="b"/>
<polygon points="333.3,366.7 336.7,363.3 340,361.7 356.7,363.3 356.7,373.3 351.7,375 346.7,380 333.3,381.7" fill="#FFC800"/>
<path d="M333.3 366.7L336.7 363.3L340 361.7L356.7 363.3L356.7 373.3L351.7 375L346.7 380L333.3 381.7L333.3 366.7" class="b"/>
<polygon points="356.7,363.3 373.3,361.7 383.3,361.7 385,365 383.3,373.3 385,378.3 381.7,383.3 373.3,383.3 365,385 360,386.7 357.5,385" fill="#FF8C00"/>
<path d="M356.7 363.3L373.3 361.7L383.3 361.7L385 365L383.3 373.3L385 378.3L381.7 383.3L373.3 383.3L365 385L360 386.7L357.5 385L356.7 363.3" class="b"/>
<polygon points="333.3,381.7 346.7,380 351.7,375 356.7,373.3 357.5,385 358.3,395 351.7,396.7 343.3,391.7 335,390" fill="#FF5A00"/>
<path d="M333.3 381.7L346.7 380L351.7 375L356.7 373.3L357.5 385L358.3 395L351.7 396.7L343.3 391.7L335 390L333.3 381.7" class="b"/>
<polygon points="330,356.7 333.3,366.7 333.3,381.7 335,390 343.3,391.7 351.7,396.7 346.7,400 340,403.3 336.7,413.3 338.3,423.3 336.7,436.7 338.3,442.8 330,442.8" fill="#FF5A00"/>
<path d="M330 356.7L333.3 366.7L333.3 381.7L335 390L343.3 391.7L351.7 396.7L346.7 400L340 403.3L336.7 413.3L338.3 423.3L336.7 436.7L338.3 442.8" class="b"/>
<polygon points="358.3,386.7 365,385 373.3,383.3 381.7,383.3 390,386.7 390,396.7 380,400 370,400 360,396.7" fill="#FF8C00"/>
<path d="M358.3 386.7L365 385L373.3 383.3L381.7 383.3L390 386.7L390 396.7L380 400L370 400L360 396.7L358.3 386.7" class="b"/>
<polygon points="390,386.7 391.7,385 396.7,380 403.3,375 407.5,373.3 408.3,400 398.3,398.3 390,396.7" fill="#FFC800"/>
<path d="M390 386.7L391.7 385L396.7 380L403.3 375L407.5 373.3L408.3 400L398.3 398.3L390 396.7L390 386.7" class="b"/>
<polygon points="340,403.3 346.7,400 351.7,396.7 358.3,395 370,400 380,400 390,396.7 398.3,398.3 393.3,403.3 390,408.3 388.3,423.3 383.3,433.3 385,442.8 340,442.8 336.7,436.7 338.3,423.3 336.7,413.3" fill="#FFC800"/>
<path d="M340 403.3L346.7 400L351.7 396.7L358.3 395L370 400L380 400L390 396.7L398.3 398.3L393.3 403.3L390 408.3L388.3 423.3L383.3 433.3L385 442.8M340 442.8L336.7 436.7L338.3 423.3L336.7 413.3L340 403.3" class="b"/>
<polygon points="398.3,398.3 408.3,400 416.7,410 418.3,423.3 423.3,436.7 423.3,442.8 385,442.8 383.3,433.3 388.3,423.3 390,408.3 393.3,403.3" fill="#FF8C00"/>
<path d="M398.3 398.3L408.3 400L416.7 410L418.3 423.3L423.3 436.7L423.3 442.8M385 442.8L383.3 433.3L388.3 423.3L390 408.3L393.3 403.3L398.3 398.3" class="b"/>
<polygon points="406.7,353.3 428.3,353.3 428.3,365 408.3,365.8" fill="#FFFF00"/>
<path d="M406.7 353.3L428.3 353.3L428.3 365L408.3 365.8L406.7 353.3" class="b"/>
<polygon points="408.3,366.7 430,365.8 428.3,376.7 421.7,383.3 410,393.3" fill="#4BFFB4"/>
<path d="M408.3 366.7L430 365.8L428.3 376.7L421.7 383.3L410 393.3L408.3 366.7" class="b"/>
<polygon points="410,393.3 421.7,383.3 424.2,410 418.3,411.7 413.3,403.3" fill="#FF8C00"/>
<path d="M410 393.3L421.7 383.3L424.2 410L418.3 411.7L413.3 403.3L410 393.3" class="b"/>
<polygon points="424.2,391.7 445,393.3 445,410 424.2,410" fill="#FF8C00"/>
<path d="M424.2 391.7L445 393.3L445 410L424.2 410L424.2 391.7" class="b"/>
<polygon points="445,388.3 453.8,386.7 453.8,410 445,410" fill="#FFC800"/>
<path d="M445 388.3L453.8 386.7M453.8 410L445 410L445 388.3" class="b"/>
<polygon points="426.7,411.7 445,410 445,430 433.3,433.3 428.3,428.3" fill="#FFC800"/>
<path d="M426.7 411.7L445 410L445 430L433.3 433.3L428.3 428.3L426.7 411.7" class="b"/>
<polygon points="445,410 453.8,410 453.8,430 445,430" fill="#FFC800"/>
<path d="M445 410L453.8 410M453.8 430L445 430L445 410" class="b"/>
<polygon points="421.7,430 433.3,433.3 445,430 453.8,430 453.8,442.8 425,442.8" fill="#4BFFB4"/>
<path d="M421.7 430L433.3 433.3L445 430L453.8 430M425 442.8L421.7 430" class="b"/>
<path d="M338.3 348.3L375 346.7L405 345.8M340 361.7L356.7 363.3M375 346.7L375 361.7M405 345.8L406.7 361.7L407.5 373.3M385 365L395 366.7L396.7 361.7L406.7 361.7M385 383.3L391.7 385M405 351.7L436.7 350L453.8 349.2M428.3 353.3L430 365L440 375L445 388.3M436.7 350L450 351.7L446.7 363.3L450 373.3L453.8 376.7M430 373.3L440 375M416.7 410L418.3 411.7L420 430" class="l"/>
<polygon points="565,363.3 573.3,358.3 586.7,355 588.3,366.7 576.7,370 568.3,368.3" fill="#FF5A00"/>
<path d="M565 363.3L573.3 358.3L586.7 355L588.3 366.7L576.7 370L568.3 368.3L565 363.3" class="b"/>
<polygon points="586.7,354.2 600,355 603.3,365 596.7,368.3 590,366.7 588.3,366.7" fill="#FF8C00"/>
<path d="M586.7 354.2L600 355L603.3 365L596.7 368.3L590 366.7L588.3 366.7L586.7 354.2" class="b"/>
<polygon points="601.7,355 613.3,353.3 626.7,365 620,378.3 610,378.3 603.3,365" fill="#FF5A00"/>
<path d="M601.7 355L613.3 353.3L626.7 365L620 378.3L610 378.3L603.3 365L601.7 355" class="b"/>
<polygon points="571.7,370 588.3,366.7 590,367.5 593.3,380 578.3,383.3 575,376.7" fill="#FF5A00"/>
<path d="M571.7 370L588.3 366.7L590 367.5L593.3 380L578.3 383.3L575 376.7L571.7 370" class="b"/>
<polygon points="590,368.3 596.7,368.3 603.3,365 610,378.3 601.7,383.3 593.3,380" fill="#FF5A00"/>
<path d="M590 368.3L596.7 368.3L603.3 365L610 378.3L601.7 383.3L593.3 380L590 368.3" class="b"/>
<polygon points="573.3,383.3 578.3,383.3 593.3,380 598.3,401.7 583.3,401.7 580,395" fill="#FF1E00"/>
<path d="M573.3 383.3L578.3 383.3L593.3 380L598.3 401.7L583.3 401.7L580 395L573.3 383.3" class="b"/>
<polygon points="593.3,380 601.7,383.3 610,378.3 620,378.3 616.7,388.3 605,398.3 603.3,403.3 598.3,401.7" fill="#FF1E00"/>
<path d="M593.3 380L601.7 383.3L610 378.3L620 378.3L616.7 388.3L605 398.3L603.3 403.3L598.3 401.7L593.3 380" class="b"/>
<polygon points="583.3,401.7 598.3,401.7 603.3,403.3 600,415 600,426.7 593.3,433.3 585,426.7" fill="#FF1E00"/>
<path d="M583.3 401.7L598.3 401.7L603.3 403.3L600 415L600 426.7L593.3 433.3L585 426.7L583.3 401.7" class="b"/>
<polygon points="555,385 573.3,383.3 580,395 583.3,401.7 581.7,408.3 568.3,410 560,406.7 556.7,395" fill="#FF5A00"/>
<path d="M555 385L573.3 383.3L580 395L583.3 401.7L581.7 408.3L568.3 410L560 406.7L556.7 395L555 385" class="b"/>
<polygon points="543.3,365 563.3,365 565,378.3 556.7,383.3 546.7,385 545,376.7" fill="#FFC800"/>
<path d="M543.3 365L563.3 365L565 378.3L556.7 383.3L546.7 385L545 376.7L543.3 365" class="b"/>
<polygon points="558.3,361.7 570,358.3 575,376.7 573.3,381.7 563.3,380 561.7,368.3" fill="#FFC800"/>
<path d="M558.3 361.7L570 358.3L575 376.7L573.3 381.7L563.3 380L561.7 368.3L558.3 361.7" class="b"/>
<polygon points="538.3,383.3 546.7,385 555,385 556.7,395 560,406.7 551.7,410 543.3,406.7 538.3,395" fill="#FFC800"/>
<path d="M538.3 383.3L546.7 385L555 385L556.7 395L560 406.7L551.7 410L543.3 406.7L538.3 395L538.3 383.3" class="b"/>
<polygon points="546.7,410 551.7,410 560,406.7 568.3,410 581.7,408.3 585,426.7 593.3,433.3 568.3,435 548.3,435" fill="#FF5A00"/>
<path d="M546.7 410L551.7 410L560 406.7L568.3 410L581.7 408.3L585 426.7L593.3 433.3L568.3 435L548.3 435L546.7 410" class="b"/>
<polygon points="530,435 548.3,435 568.3,435 593.3,433.3 600,428.3 604,438.3 608.3,446.7 600,450 590.7,453.3 587.3,458.3 577.3,453.3 569,446.7 560.7,448.3 550.7,453.3 544,451.7 532.3,443.3 530,443" fill="#FF5A00"/>
<path d="M530 435L548.3 435L568.3 435L593.3 433.3L600 428.3L604 438.3L608.3 446.7L600 450L590.7 453.3L587.3 458.3L577.3 453.3L569 446.7L560.7 448.3L550.7 453.3L544 451.7L532.3 443.3L530 443L530 435" class="b"/>
<polygon points="530,418.3 540,416.7 546.7,410 548.3,435 530,435" fill="#FF8C00"/>
<path d="M530 418.3L540 416.7L546.7 410L548.3 435L530 435" class="b"/>
<polygon points="530,410 538.3,406.7 540,416.7 530,418.3" fill="#FFFF00"/>
<path d="M530 410L538.3 406.7L540 416.7L530 418.3" class="b"/>
<polygon points="441,372 563,363 563,452 441,468" fill="#FFFFFF"/>
<polygon points="443.3,388.3 450,388.3 455,396.7 456.7,410 445,410" fill="#FFC800"/>
<path d="M443.3 388.3L450 388.3L455 396.7L456.7 410L445 410L443.3 388.3" class="b"/>
<polygon points="440,393.3 443.3,393.3 445,410 440,410" fill="#FF8C00"/>
<path d="M440 393.3L443.3 393.3L445 410L440 410" class="b"/>
<polygon points="440,410 456.7,410 458.3,418.3 455,430 446.7,431.7 440,430" fill="#FFC800"/>
<path d="M440 410L456.7 410L458.3 418.3L455 430L446.7 431.7L440 430" class="b"/>
<polygon points="440,430 446.7,431.7 455,430 456.7,443.3 455,453.3 446.7,455 446.7,463.3 443.3,468.3 440,468.3" fill="#4BFFB4"/>
<path d="M440 430L446.7 431.7L455 430L456.7 443.3L455 453.3L446.7 455L446.7 463.3L443.3 468.3L440 468.3" class="b"/>
<polygon points="456.7,421.7 465,418.3 473.3,420 471.7,433.3 470,441.7 455,443.3 455,430 458.3,418.3" fill="#4BFFB4"/>
<path d="M456.7 421.7L465 418.3L473.3 420L471.7 433.3L470 441.7L455 443.3L455 430L458.3 418.3L456.7 421.7" class="b"/>
<polygon points="458.3,388.3 468.3,376.7 481.7,373.3 483.3,393.3 473.3,396.7 466.7,400 458.3,400" fill="#FFFF00"/>
<path d="M458.3 388.3L468.3 376.7L481.7 373.3L483.3 393.3L473.3 396.7L466.7 400L458.3 400L458.3 388.3" class="b"/>
<polygon points="458.3,400 466.7,400 473.3,396.7 471.7,410 470,416.7 465,418.3 458.3,418.3 456.7,410" fill="#FFC800"/>
<path d="M458.3 400L466.7 400L473.3 396.7L471.7 410L470 416.7L465 418.3L458.3 418.3L456.7 410L458.3 400" class="b"/>
<polygon points="484.2,388.3 496.7,386.7 496.7,413.3 485,413.3" fill="#FFFF00"/>
<path d="M484.2 388.3L496.7 386.7L496.7 413.3L485 413.3L484.2 388.3" class="b"/>
<polygon points="455,443.3 470,441.7 486.7,440 481.7,453.3 471.7,456.7 461.7,453.3 456.7,450" fill="#FFFF00"/>
<path d="M455 443.3L470 441.7L486.7 440L481.7 453.3L471.7 456.7L461.7 453.3L456.7 450L455 443.3" class="b"/>
<polygon points="481.7,441.7 498.3,440 500,448.3 490,453.3 481.7,453.3" fill="#FFC800"/>
<path d="M481.7 441.7L498.3 440L500 448.3L490 453.3L481.7 453.3L481.7 441.7" class="b"/>
<polygon points="446.7,455 455,453.3 463.3,456.7 473.3,456.7 481.7,460 488.3,458.3 490,466.7 495,470 488.3,470 481.7,466.7 473.3,470 463.3,466.7 456.7,463.3 450,460" fill="#FF8C00"/>
<path d="M446.7 455L455 453.3L463.3 456.7L473.3 456.7L481.7 460L488.3 458.3L490 466.7L495 470L488.3 470L481.7 466.7L473.3 470L463.3 466.7L456.7 463.3L450 460L446.7 455" class="b"/>
<polygon points="497.5,381.7 511.7,381.7 513.3,393.3 518.3,398.3 523.3,401.7 520,410 510,405 503.3,403.3 498.3,406.7" fill="#FFFF00"/>
<path d="M497.5 381.7L511.7 381.7L513.3 393.3L518.3 398.3L523.3 401.7L520 410L510 405L503.3 403.3L498.3 406.7L497.5 381.7" class="b"/>
<polygon points="516.7,398.3 530,376.7 533.3,380 528.3,395 523.3,401.7" fill="#FFFF00"/>
<path d="M516.7 398.3L530 376.7L533.3 380L528.3 395L523.3 401.7L516.7 398.3" class="b"/>
<polygon points="498.3,406.7 503.3,403.3 510,405 520,410 523.3,401.7 528.3,395 533.3,406.7 540,410 538.3,416.7 523.3,418.3 511.7,416.7 501.7,420 498.3,418.3" fill="#FFFF00"/>
<path d="M498.3 406.7L503.3 403.3L510 405L520 410L523.3 401.7L528.3 395L533.3 406.7L540 410L538.3 416.7L523.3 418.3L511.7 416.7L501.7 420L498.3 418.3L498.3 406.7" class="b"/>
<polygon points="528.3,395 533.3,380 540,383.3 543.3,410 540,410 533.3,406.7" fill="#FFC800"/>
<path d="M528.3 395L533.3 380L540 383.3L543.3 410L540 410L533.3 406.7L528.3 395" class="b"/>
<polygon points="538.3,383.3 556.7,383.3 555,393.3 550,410 543.3,410" fill="#FFC800"/>
<path d="M538.3 383.3L556.7 383.3L555 393.3L550 410L543.3 410L538.3 383.3" class="b"/>
<polygon points="545,365 563.8,363.3 563.8,383.3 546.7,383.3" fill="#FFC800"/>
<path d="M545 365L563.8 363.3M563.8 383.3L546.7 383.3L545 365" class="b"/>
<polygon points="556.7,383.3 563.8,383.3 563.8,410 550,410 555,393.3" fill="#FF5A00"/>
<path d="M556.7 383.3L563.8 383.3M563.8 410L550 410L555 393.3L556.7 383.3" class="b"/>
<polygon points="498.3,418.3 501.7,420 511.7,416.7 523.3,418.3 538.3,416.7 540,410 550,410 548.3,433.3 526.7,435 513.3,436.7 501.7,436.7" fill="#FF8C00"/>
<path d="M498.3 418.3L501.7 420L511.7 416.7L523.3 418.3L538.3 416.7L540 410L550 410L548.3 433.3L526.7 435L513.3 436.7L501.7 436.7L498.3 418.3" class="b"/>
<polygon points="546.7,410 563.8,410 563.8,435 548.3,433.3" fill="#FF5A00"/>
<path d="M546.7 410L563.8 410M563.8 435L548.3 433.3L546.7 410" class="b"/>
<polygon points="501.7,436.7 513.3,436.7 510,443.3 513.3,448.3 503.3,448.3 500,443.3" fill="#FF8C00"/>
<path d="M501.7 436.7L513.3 436.7L510 443.3L513.3 448.3L503.3 448.3L500 443.3L501.7 436.7" class="b"/>
<polygon points="513.3,436.7 548.3,433.3 563.8,435 563.8,450 553.3,453.3 543.3,448.3 533.3,445 523.3,445 513.3,448.3 510,443.3" fill="#FF5A00"/>
<path d="M513.3 436.7L548.3 433.3L563.8 435M563.8 450L553.3 453.3L543.3 448.3L533.3 445L523.3 445L513.3 448.3L510 443.3L513.3 436.7" class="b"/>
<path d="M440 386.7L450 373.3L496.7 371.7L543.3 366.7L563.8 363.3M456.7 360L455 366.7L450 373.3M470 360L466.7 368.3L468.3 376.7M493.3 360L491.7 371.7M521.7 360L520 368.3L520 380M533.3 360L531.7 376.7L533.3 380M483.3 373.3L483.3 395L485 413.3L486.7 440M496.7 371.7L496.7 386.7M497.5 413.3L498.3 440M511.7 380L520 380" class="l"/>
<polygon points="470,240 594,240 594,353 470,353" fill="#FFFFFF"/>
<polygon points="470,246.7 486.7,245 488.3,263.3 470,268.3" fill="#4BFFB4"/>
<path d="M470 246.7L486.7 245L488.3 263.3L470 268.3" class="b"/>
<polygon points="500,240 513.3,240 511.7,253.3 501.7,255" fill="#4BFFB4"/>
<path d="M513.3 240L511.7 253.3L501.7 255L500 240" class="b"/>
<polygon points="513.3,240 528.3,240 526.7,251.7 511.7,253.3" fill="#14FFEB"/>
<path d="M528.3 240L526.7 251.7L511.7 253.3L513.3 240" class="b"/>
<polygon points="528.3,240 541.7,240 540,250 526.7,251.7" fill="#00D7FF"/>
<path d="M541.7 240L540 250L526.7 251.7L528.3 240" class="b"/>
<polygon points="541.7,240 544.2,240 541.7,250" fill="#00D7FF"/>
<path d="M544.2 240L541.7 250L541.7 240" class="b"/>
<polygon points="511.7,253.3 523.3,252.5 525,271.7 515,272.5" fill="#14FFEB"/>
<path d="M511.7 253.3L523.3 252.5L525 271.7L515 272.5L511.7 253.3" class="b"/>
<polygon points="523.3,252.5 541.7,250.8 541.7,266.7 525,268.3" fill="#00D7FF"/>
<path d="M523.3 252.5L541.7 250.8L541.7 266.7L525 268.3L523.3 252.5" class="b"/>
<polygon points="541.7,250.8 548.3,251.7 558.3,250 560,255 553.3,261.7 551.7,265 541.7,266.7" fill="#0A62FF"/>
<path d="M541.7 250.8L548.3 251.7L558.3 250L560 255L553.3 261.7L551.7 265L541.7 266.7L541.7 250.8" class="b"/>
<polygon points="473.3,268.3 488.3,265 491.7,288.3 478.3,290 475,278.3" fill="#FFFF00"/>
<path d="M473.3 268.3L488.3 265L491.7 288.3L478.3 290L475 278.3L473.3 268.3" class="b"/>
<polygon points="470,273.3 475,273.3 478.3,290 473.3,295 470,295" fill="#FFFF00"/>
<path d="M470 273.3L475 273.3L478.3 290L473.3 295L470 295" class="b"/>
<polygon points="470,293.3 473.3,295 473.3,310 470,311.7" fill="#FFC800"/>
<path d="M470 293.3L473.3 295L473.3 310L470 311.7" class="b"/>
<polygon points="503.3,275 515,273.3 518.3,286.7 521.7,290 515,295 510,293.3 505,286.7" fill="#FFFF00"/>
<path d="M503.3 275L515 273.3L518.3 286.7L521.7 290L515 295L510 293.3L505 286.7L503.3 275" class="b"/>
<polygon points="518.3,290 528.3,290 530,300 521.7,310 518.3,306.7" fill="#FFFF00"/>
<path d="M518.3 290L528.3 290L530 300L521.7 310L518.3 306.7L518.3 290" class="b"/>
<polygon points="478.3,340 488.3,330 495,323.3 508.3,320 511.7,338.3 503.3,341.7 480,346.7" fill="#FFFF00"/>
<path d="M478.3 340L488.3 330L495 323.3L508.3 320L511.7 338.3L503.3 341.7L480 346.7L478.3 340" class="b"/>
<polygon points="573.3,315 580,311.7 586.7,306.7 593.8,303.3 593.8,311.7 586.7,315 580,318.3 575,318.3" fill="#4BFFB4"/>
<path d="M573.3 315L580 311.7L586.7 306.7L593.8 303.3M593.8 311.7L586.7 315L580 318.3L575 318.3L573.3 315" class="b"/>
<polygon points="585,333.3 593.8,331.7 593.8,352.8 583.3,352.8" fill="#FFC800"/>
<path d="M585 333.3L593.8 331.7M583.3 352.8L585 333.3" class="b"/>
<path d="M485 240L488.3 250L491.7 256.7L496.7 255L500 240M491.7 256.7L491.7 266.7L493.3 281.7L495 298.3L493.3 306.7L496.7 316.7L495 323.3M490 258.3L501.7 255L503.3 255L505 273.3L506.7 296.7L508.3 315M493.3 276.7L503.3 275M493.3 296.7L506.7 296.7L518.3 296.7M475 311.7L493.3 310L508.3 315M470 326.7L478.3 330L488.3 330M541.7 266.7L543.3 295L546.7 303.3M526.7 268.3L528.3 283.3L530 295M528.3 283.3L543.3 281.7L556.7 281.7L570 285M553.3 261.7L556.7 271.7L555 283.3M556.7 271.7L566.7 270L578.3 270M568.3 256.7L570 270L568.3 283.3M530 295L543.3 295L548.3 296.7L556.7 296.7M508.3 320L520 313.3L525 308.3L531.7 303.3L543.3 300L548.3 296.7L560 298.3L565 293.3L568.3 288.3L570 283.3M576.7 240L578.3 256.7L580 273.3L581.7 281.7M576.7 253.3L593.8 250M580 273.3L593.8 271.7M570 283.3L563.3 296.7L563.3 306.7L570 311.7L573.3 315M550 300L556.7 310L563.3 320L570 323.3M470 348.3L511.7 338.3L593.3 328.3M520 313.3L525 323.3L533.3 326.7L533.3 338.3M545 311.7L548.3 323.3L550 333.3M570 323.3L576.7 316.7L586.7 315M581.7 281.7L585 295L593.8 290M576.7 316.7L580 331.7L585 333.3M560 240L563.3 246.7L576.7 240" class="l"/>
<polygon points="540,282 664,282 664,393 540,393" fill="#FFFFFF"/>
<polygon points="593.3,328.3 626.7,321.7 626.7,331.7 620,333.3 618.3,336.7 595,335.8" fill="#FFC800"/>
<path d="M593.3 328.3L626.7 321.7L626.7 331.7L620 333.3L618.3 336.7L595 335.8L593.3 328.3" class="b"/>
<polygon points="585,337.5 595,336.7 618.3,336.7 623.3,331.7 625,335 618.3,343.3 613.3,344.2 585,345" fill="#FFC800"/>
<path d="M585 337.5L595 336.7L618.3 336.7L623.3 331.7L625 335L618.3 343.3L613.3 344.2L585 345L585 337.5" class="b"/>
<polygon points="583.3,346.7 613.3,344.2 616.7,343.3 613.3,353.3 603.3,355 590,353.3 583.3,351.7" fill="#FFC800"/>
<path d="M583.3 346.7L613.3 344.2L616.7 343.3L613.3 353.3L603.3 355L590 353.3L583.3 351.7L583.3 346.7" class="b"/>
<polygon points="623.3,335 633.3,333.3 643.3,331.7 653.3,330 655,333.3 650,336.7 655,340 653.3,343.3 646.7,346.7 640,348.3 630,343.3 621.7,341.7" fill="#FFFF00"/>
<path d="M623.3 335L633.3 333.3L643.3 331.7L653.3 330L655 333.3L650 336.7L655 340L653.3 343.3L646.7 346.7L640 348.3L630 343.3L621.7 341.7L623.3 335" class="b"/>
<polygon points="613.3,353.3 621.7,341.7 630,343.3 640,348.3 643.3,350 638.3,363.3 628.3,363.3 616.7,358.3" fill="#FF8C00"/>
<path d="M613.3 353.3L621.7 341.7L630 343.3L640 348.3L643.3 350L638.3 363.3L628.3 363.3L616.7 358.3L613.3 353.3" class="b"/>
<polygon points="603.3,355 613.3,353.3 616.7,358.3 628.3,363.3 623.3,373.3 620,380 615,380 610,368.3" fill="#FF5A00"/>
<path d="M603.3 355L613.3 353.3L616.7 358.3L628.3 363.3L623.3 373.3L620 380L615 380L610 368.3L603.3 355" class="b"/>
<polygon points="565,365 573.3,358.3 583.3,355 590,353.3 603.3,355 606.7,363.3 603.3,368.3 595,366.7 590,370 581.7,368.3 573.3,370.8 566.7,370" fill="#FF8C00"/>
<path d="M565 365L573.3 358.3L583.3 355L590 353.3L603.3 355L606.7 363.3L603.3 368.3L595 366.7L590 370L581.7 368.3L573.3 370.8L566.7 370L565 365" class="b"/>
<polygon points="573.3,370.8 581.7,368.3 590,370 595,366.7 603.3,368.3 606.7,363.3 610,368.3 615,380 603.3,383.3 590,383.3 581.7,381.7 573.3,376.7" fill="#FF5A00"/>
<path d="M573.3 370.8L581.7 368.3L590 370L595 366.7L603.3 368.3L606.7 363.3L610 368.3L615 380L603.3 383.3L590 383.3L581.7 381.7L573.3 376.7L573.3 370.8" class="b"/>
<polygon points="545,365 558.3,363.3 561.7,376.7 565,383.3 550,386.7 545,383.3" fill="#FFC800"/>
<path d="M545 365L558.3 363.3L561.7 376.7L565 383.3L550 386.7L545 383.3L545 365" class="b"/>
<polygon points="558.3,363.3 566.7,361.7 573.3,370.8 573.3,376.7 570,380 565,383.3 561.7,376.7" fill="#FFC800"/>
<path d="M558.3 363.3L566.7 361.7L573.3 370.8L573.3 376.7L570 380L565 383.3L561.7 376.7L558.3 363.3" class="b"/>
<polygon points="556.7,383.3 565,383.3 570,380 573.3,380 581.7,381.7 578.3,392.8 556.7,392.8" fill="#FF5A00"/>
<path d="M556.7 383.3L565 383.3L570 380L573.3 380L581.7 381.7L578.3 392.8M556.7 392.8L556.7 383.3" class="b"/>
<polygon points="573.3,380 581.7,381.7 590,383.3 593.3,392.8 578.3,392.8" fill="#FF1E00"/>
<path d="M573.3 380L581.7 381.7L590 383.3L593.3 392.8M578.3 392.8L573.3 380" class="b"/>
<polygon points="590,383.3 603.3,383.3 615,380 620,380 613.3,392.8 593.3,392.8" fill="#FF1E00"/>
<path d="M590 383.3L603.3 383.3L615 380L620 380L613.3 392.8M593.3 392.8L590 383.3" class="b"/>
<polygon points="540,383.3 545,383.3 550,386.7 556.7,383.3 556.7,392.8 540,392.8" fill="#FFC800"/>
<path d="M540 383.3L545 383.3L550 386.7L556.7 383.3L556.7 392.8" class="b"/>
<polygon points="571.7,315 576.7,312.5 583.3,310 588.3,306.7 593.3,303.3 594.2,310 591.7,313.3 585,315 578.3,318.3 573.3,318.3" fill="#4BFFB4"/>
<path d="M571.7 315L576.7 312.5L583.3 310L588.3 306.7L593.3 303.3L594.2 310L591.7 313.3L585 315L578.3 318.3L573.3 318.3L571.7 315" class="b"/>
<polygon points="641.7,280 656.7,280 655,290 650,290 646.7,285" fill="#FFC800"/>
<path d="M656.7 280L655 290L650 290L646.7 285L641.7 280" class="b"/>
<path d="M540 337.5L595 328.3L628.3 321.7L653.3 315M540 298.3L546.7 296.7L556.7 303.3L561.7 298.3L568.3 301.7L578.3 290L590 286.7L598.3 280M556.7 303.3L555 313.3L570 316.7L571.7 315M570 316.7L576.7 323.3L586.7 320L593.3 313.3L596.7 305L603.3 295L610 290L618.3 280M593.3 303.3L595 290L598.3 280M540 318.3L551.7 323.3L560 330L566.7 333.3L580 330L590 323.3M576.7 323.3L578.3 333.3M603.3 295L606.7 306.7L613.3 313.3L616.7 323.3M610 290L616.7 300L626.7 305L628.3 320M626.7 305L633.3 296.7L640 280M633.3 296.7L640 305L648.3 311.7M540 350L556.7 346.7L573.3 340L581.7 336.7M540 363.3L556.7 362.5L566.7 361.7M556.7 346.7L553.3 355L550 363.3M630 280L633.3 286.7L643.3 293.3L650 300L653.3 310M640 280L646.7 290L653.3 296.7M546.7 280L550 286.7L540 293.3M550 301.7L540 308.3M565 280L568.3 290L578.3 290" class="l"/>
<polygon points="87,118.3 98.8,119.4 96.7,130.1 92.4,135.5 88.1,143.1 84.8,149.5 81.6,156 78.4,160.3 75.1,164.6 71.9,163.5 73,159.2 79.4,153.8 82.7,145.2 85.9,135.5 89.1,126.9 87,121.5" fill="#4BFFB4"/>
<path d="M87 118.3L98.8 119.4L96.7 130.1L92.4 135.5L88.1 143.1L84.8 149.5L81.6 156L78.4 160.3L75.1 164.6L71.9 163.5L73 159.2L79.4 153.8L82.7 145.2L85.9 135.5L89.1 126.9L87 121.5L87 118.3" class="b"/>
<path d="M53.1 107.5L74.1 112.9L75.1 121.5L70.8 122.6L54.7 117.2L53.1 118.3M59 121.5L62.2 124.8L61.1 132.3L60.1 145.2L61.1 156M62.2 124.8L66.5 132.3L65.5 147.4L68.7 149.5L80.5 140.9L81.6 132.3L81.6 116.1M76.2 119.4L77.3 126.9L74.1 132.3L70.8 140.9L67.6 145.2M79.4 125.8L78.4 135.5L74.1 143.1M69.8 132.3L75.1 134.4M71.9 130.1L77.3 129.1M68.7 137.7L77.3 138.8M53.6 140.9L55.8 145.2L54.7 151.7M97.1 144.2L114.1 147.9L126.2 156.3" class="l"/>
<polygon points="405.5,352.5 476,348 476,392 405.5,392" fill="#FFFFFF"/>
<polygon points="405.4,343.5 437.7,343.5 437.7,351.5 405.4,352.9" fill="#FFFF00"/>
<polygon points="406.1,354.2 428.3,353.6 428.3,365.7 408.1,366.3" fill="#FFFF00"/>
<path d="M406.1 354.2L428.3 353.6L428.3 365.7L408.1 366.3L406.1 354.2" class="b"/>
<polygon points="408.1,367 429.6,366.3 429.6,374.4 424.2,383.8 416.2,385.2 409.4,391.9" fill="#4BFFB4"/>
<path d="M408.1 367L429.6 366.3L429.6 374.4L424.2 383.8L416.2 385.2L409.4 391.9L408.1 367" class="b"/>
<polygon points="409.4,391.9 416.2,385.2 424.2,383.8 425.6,391.9 443.1,394.6 444.4,409.9 410.8,409.9" fill="#FF8C00"/>
<polygon points="440.4,386.5 448.5,387.9 453.8,394.6 456.5,405.4 456.5,409.9 444.4,409.9 443.1,394.6" fill="#FFC800"/>
<polygon points="457.9,397.3 463.3,386.5 464.6,375.8 480.8,373.1 482.1,393.3 470,395.9 468.6,401.3 457.9,401.3" fill="#FFFF00"/>
<path d="M457.9 397.3L463.3 386.5L464.6 375.8L480.8 373.1L482.1 393.3L470 395.9L468.6 401.3L457.9 401.3L457.9 397.3" class="b"/>
<polygon points="400,375.8 408.1,375.8 408.1,394.6 400,397.3" fill="#FFC800"/>
<path d="M405.4 352.9L437.7 351.5L464.6 350.2L474 347.5M405.4 352.9L408.1 366.3L409.4 391.9M428.3 353.6L429.6 370.4L440.4 371.7L441.7 386.5M448.5 351.5L449.8 362.3L443.1 363.6L440.4 371.7M463.3 351.5L464.6 356.9L470 358.3M449.8 362.3L464.6 361L470 358.3M440.4 375.8L452.5 373.1L467.3 370.4M452.5 373.1L453.8 383.8L456.5 394.6M474 347.5L471.3 363.6L467.3 370.4L463.3 375.8L459.2 386.5L456.5 394.6L456.5 409.9M474 347.5L480.8 347.5L494.2 346.2L500 344.8M492.9 346.2L491.5 370.4M470 371.7L500 370.4M400 373.1L408.1 375.8" class="l"/>
<polygon points="344.5,196.5 430,196.5 430,280 344.5,280" fill="#FFFFFF"/>
<polygon points="375.1,214.2 421.5,212.9 422.9,220.3 375.8,220.3" fill="#FF8C00"/>
<polygon points="344.1,196.7 345.5,196.7 345.5,230.4 344.1,230.4" fill="#FFC800"/>
<polygon points="344.8,197.4 371.7,196.7 374.4,206.2 374.4,212.2 344.8,212.9" fill="#FFC800"/>
<path d="M344.8 197.4L371.7 196.7L374.4 206.2L374.4 212.2L344.8 212.9L344.8 197.4" class="b"/>
<polygon points="344.8,213.6 374.4,212.9 375.1,229.7 344.8,230.4" fill="#FFC800"/>
<path d="M344.8 213.6L374.4 212.9L375.1 229.7L344.8 230.4L344.8 213.6" class="b"/>
<polygon points="345.5,231 375.1,230.4 374.4,238.5 375.8,249.2 362.3,249.2 354.2,247.9 346.2,246.5" fill="#FFFF00"/>
<path d="M345.5 231L375.1 230.4L374.4 238.5L375.8 249.2L362.3 249.2L354.2 247.9L346.2 246.5L345.5 231" class="b"/>
<polygon points="342.8,247.2 353.6,247.9 353.6,266.7 342.8,266.7" fill="#00D7FF"/>
<polygon points="354.2,249.2 365,249.2 370.4,251.9 375.8,253.3 381.1,266.7 354.2,268.1" fill="#FFC800"/>
<path d="M354.2 249.2L365 249.2L370.4 251.9L375.8 253.3L381.1 266.7L354.2 268.1L354.2 249.2" class="b"/>
<polygon points="354.2,268.1 381.1,267.4 385.2,280 354.2,280" fill="#FFFF00"/>
<polygon points="371.7,196.1 389.2,196.1 389.2,215.6 376.4,217.6 375.1,206.2 371.7,200.8" fill="#FF8C00"/>
<polygon points="389.2,196.1 406,196.1 408.1,208.8 412.1,214.2 394.6,218.3 389.2,215.6" fill="#FF8C00"/>
<polygon points="406,196.1 420.8,196.1 418.8,204.8 414.8,212.9 412.1,214.2 408.1,208.8" fill="#FFC800"/>
<polygon points="420.8,196.1 430,196.1 430,204.8 418.8,204.8" fill="#FFFF00"/>
<polygon points="418.8,205.5 430,204.8 430,216.9 416.1,215.6" fill="#FFC800"/>
<path d="M418.8 205.5L430 204.8M430 216.9L416.1 215.6L418.8 205.5" class="b"/>
<polygon points="376.4,217.6 393.3,218.9 394.6,235.8 375.8,236.4" fill="#FF8C00"/>
<path d="M376.4 217.6L393.3 218.9L394.6 235.8L375.8 236.4L376.4 217.6" class="b"/>
<polygon points="393.3,218.9 413.4,216.2 416.1,234.4 394.6,235.8" fill="#FF8C00"/>
<path d="M393.3 218.9L413.4 216.2L416.1 234.4L394.6 235.8L393.3 218.9" class="b"/>
<polygon points="413.4,216.2 421.5,214.2 430,223.6 430,234.4 416.1,234.4" fill="#FF8C00"/>
<path d="M413.4 216.2L421.5 214.2L430 223.6M430 234.4L416.1 234.4L413.4 216.2" class="b"/>
<polygon points="375.8,237.1 398.6,236.4 399.3,250.6 377.1,251.9" fill="#FFC800"/>
<path d="M375.8 237.1L398.6 236.4L399.3 250.6L377.1 251.9L375.8 237.1" class="b"/>
<polygon points="399.3,236.4 424.2,235.8 424.2,249.9 400,250.6" fill="#FF8C00"/>
<path d="M399.3 236.4L424.2 235.8L424.2 249.9L400 250.6L399.3 236.4" class="b"/>
<polygon points="377.1,252.6 400,251.2 402.7,268.1 382.5,268.1 379.8,262.7" fill="#FFC800"/>
<path d="M377.1 252.6L400 251.2L402.7 268.1L382.5 268.1L379.8 262.7L377.1 252.6" class="b"/>
<polygon points="400,251.2 425.6,250.6 425.6,266.7 402.7,268.1" fill="#FFC800"/>
<path d="M400 251.2L425.6 250.6L425.6 266.7L402.7 268.1L400 251.2" class="b"/>
<polygon points="402.7,269.4 425.6,268.1 425.6,280 404,280" fill="#FFFF00"/>
<polygon points="423.4,268 431,268 431,281 424,281" fill="#FFC800"/>
<path d="M424.2 235.8L424.2 253.3L430 253.3M383.8 270.8L402.7 269.4L402.7 280M371.7 196.1L371.7 196.7M344.8 197.4L344.8 246.5M389.2 190L389.2 215.6M406 190L408.1 208.8L412.1 214.2L414.8 212.9L418.8 204.8L420.8 196.1L421.5 190M371.7 190L371.7 200.8L375.1 206.2L376.4 217.6" class="l"/>
<polygon points="160.3,336.5 150.6,351 148.9,362.3 147.3,378.5 145.7,384.9 163.4,386.5 171.5,383.3 180,384.9 186,386 186,345 161.7,337" fill="#FFC800"/>
<path d="M160.3 336.5L150.6 351L148.9 362.3L147.3 378.5L145.7 384.9M150.6 360.7L160.3 365.5L166.7 372L173 383.3" class="l"/>
<polygon points="557,207 662,207 662,292 557,292" fill="#FFFFFF"/>
<polygon points="596.7,219.7 606.7,216.4 616.6,211.5 624.9,206.8 680,206.8 680,223 672.9,228 664.6,233 659.6,242.9 654.7,242.9 649.7,233 639.8,229.7 634.8,224.7 626.5,224.7 623.2,223 606.7,221.4 598.4,223" fill="#FFFF00"/>
<polygon points="628.2,242.9 638.1,239.6 641.4,242.9 646.4,233 649.7,233 654.7,242.9 653,246.2 646.4,246.2 639.8,247.9 629.8,251.2" fill="#FFFF00"/>
<path d="M628.2 242.9L638.1 239.6L641.4 242.9L646.4 233L649.7 233L654.7 242.9L653 246.2L646.4 246.2L639.8 247.9L629.8 251.2L628.2 242.9" class="b"/>
<polygon points="656.3,242.9 672.9,231.3 680,228 680,231.3 664.6,239.6 658,244.6" fill="#FFFF00"/>
<path d="M656.3 242.9L672.9 231.3L680 228M680 231.3L664.6 239.6L658 244.6L656.3 242.9" class="b"/>
<polygon points="643.1,269.4 649.7,267.7 654.7,276 656.3,282.6 653,289.9 646.4,289.9 643.1,282.6" fill="#FFC800"/>
<path d="M643.1 269.4L649.7 267.7L654.7 276L656.3 282.6L653 289.9L646.4 289.9L643.1 282.6L643.1 269.4" class="b"/>
<polygon points="641.4,276 644.7,276 646.4,286 642.3,286" fill="#FFFF00"/>
<path d="M641.4 276L644.7 276L646.4 286L642.3 286L641.4 276" class="b"/>
<path d="M649.7 206.8L653 213.1L656.3 229.7M662.1 206.8L663 221.4L659.6 229.7M663 213.1L680 209.8M628.2 213.1L648.1 214.8M557 252.8L566.9 246.2L576.9 237.9L585.1 231.3L588.5 226.4L590.1 221.4L588.5 211.5L596.7 209.8L611.6 208.1L619.9 206.5L623.2 196.6L618.3 191.6L621.6 186.6L624.9 180M596.7 219.7L598.4 223L606.7 221.4L623.2 223L626.5 224.7L634.8 224.7L639.8 229.7L649.7 233M624.9 206.5L626.5 224.7M591.8 229.7L634.8 224.7M575.2 239.6L578.5 252.8L583.5 274.4M595.1 234.6L596.7 242.9L601.7 246.2L600 257.8L603.4 262.8L601.7 272.7M610 231.3L611.6 237.9L616.6 239.6L618.3 246.2L614.9 251.2L616.6 257.8L614.9 264.4M628.2 229.7L633.2 236.3L634.8 242.9M557 257.8L565.3 256.2L576.9 252.8L596.7 249.5L614.9 251.2L626.5 252.8L631.5 257.8M596.7 241.3L610 241.3L619.9 237.9L629.8 239.6M565.3 256.2L566.9 272.7M576.9 262.8L603.4 262.8M614.9 264.4L633.2 261.1L644.7 262.8M557 279.3L583.5 274.4L643.1 262.8M629.8 251.2L636.5 252.8L646.4 249.5L649.7 259.5L643.1 262.8M659.6 242.9L663 251.2L659.6 262.8L656.3 269.4L653 272.7L654.7 276M646.4 249.5L656.3 252.8M575.2 239.6L557 242.9M583.5 274.4L606.7 282.6L623.2 279.3L626.5 289.9M631.5 266.1L636.5 272.7L639.8 279.3L643.1 289.9M619.9 276L626.5 282.6L629.8 289.9M591.8 229.7L588.5 226.4" class="l"/>
<polygon points="53.3,107.5 73.3,113.3 100,119.2 116.7,122.5 140,127.5 175,132.5 213.3,137.5 240,140 253.8,140.8 286.7,143.3 316.7,144.2 363.8,144.2 386.7,143.3 387.5,136.7 390.8,137.5 390.8,146.7 410,148.3 421.7,151.7 435,155.8 450,155 438.3,163.3 426.7,175 423.3,178.3 435,175 448.3,176.7 461.7,168.3 466.7,171.7 478.8,171.7 481.7,176.7 493.3,173.3 505,170 508.3,173.3 516.7,175 521.7,180 515,181.7 510,183.3 500,186.7 490,190 483.3,190 483.3,200 480,205 483.3,215 484,230 485,247 491.7,256.7 500,255 501.7,243.3 500,231.7 496.7,213.3 498.3,203.3 501.7,195 510,183.3 515,185 525,190 531.7,195 533.3,206.7 530,213.3 536.7,210 543.3,213.3 546.7,226.7 548.3,233.3 543.3,243.3 541.7,250.8 550,251.7 558.3,250 574.2,238.3 583.9,231 591.2,221.3 588.8,214.1 593.6,210.4 608.1,208 616.6,205.6 620.3,199.5 619,192.3 622.7,187.4 620,186.7 626.7,173.3 640,170 650,166.7 668.3,161.7 673.3,156.7 676.7,143.3 678.3,130 681.7,113.3 686.7,116.7 691.7,111.7 698.3,113.3 706.7,135.8 715,140 720,145 716.7,150 706.7,156.7 700,163.3 693.3,171.7 690,178.3 687.3,183.5 686,194.2 691.3,199.6 692.7,205 700.8,210.4 703.4,209 700.8,215.8 695.4,217.1 690,215.8 687.3,221.1 679.2,226.5 667.1,231.9 660.4,234.6 659,237.3 657.7,242.7 661.7,244.2 661.7,255 658.3,266.7 655,271.7 656.7,280 655,288.3 651.7,293.3 653.3,305 658.3,318.3 661.7,323.3 656.7,328.3 655,333.3 653.3,340 650,343.3 643.3,348.3 640,355 636.7,361.7 630,366.7 625,373.3 620,380 616.7,386.7 613.3,392.8 608.3,396 604,401.7 600.7,416.7 599,428.3 604,438.3 608.3,446.7 616.7,456.7 621.7,465 626.7,475 631.7,481.7 635.8,488.3 637.5,498.3 637.5,510 636.7,515 630,518.3 625,518.3 623.3,515 616.7,508.3 610,501.7 605,495 600,490 596.7,483.3 591.7,478.3 590,470 588,462 584,456 577.3,453.3 569,446.7 560.7,448.3 550.7,453.3 544,451.7 532.3,443.3 519,443.3 514,445 510.7,448.3 504,446.7 500.7,448.3 494,450 491,453.3 486,458.3 492.7,468.3 494.3,473.3 489.3,470.8 482.7,468.3 476,473.3 466,473.3 459.3,466.7 451,465 449.3,468.3 424.3,466.7 423.3,466.7 416.7,468.3 410,471.7 405,476.7 398.3,483.3 388.3,488.3 381.7,491.7 376.7,496.7 373.3,503.3 370.8,513.3 371.7,523.3 375,533.3 373.3,535.8 360,532.5 348.3,528.3 343.3,521.7 340,511.7 335,503.3 326.7,490 321.7,480 313,473.3 306.3,470 298,468.3 291.3,473.3 283,480 273,475 266.3,468.3 263,458.3 258,451.7 256.7,450 250,443.3 243.3,435 238.3,429.2 215,431.7 214.2,437.5 201.7,436.7 171.7,434.2 140,416.7 122.5,406.7 123.3,403.3 99.2,401.3 90,400 87.5,390 80,380 75.3,376.7 65.3,366.7 57,360 49.5,355 48.7,346.7 45.3,336.7 40.3,325 38.7,315 36.2,305 37,296.7 32,291.7 27,280 26.2,270 23.7,256.7 25.3,245 29.5,233.3 31.2,223.3 31.5,215 33.6,208.5 36.8,201 41.1,192.4 45.5,182.7 48.7,174.1 51.9,164.4 53.5,157.4 53,135 52.5,118.3" class="o"/>
<rect x="29.00" y="588" width="49.04" height="40.5" fill="#D20000" stroke="#222" stroke-width="0.9"/>
<rect x="78.04" y="588" width="49.04" height="40.5" fill="#FF1E00" stroke="#222" stroke-width="0.9"/>
<rect x="127.07" y="588" width="49.04" height="40.5" fill="#FF5A00" stroke="#222" stroke-width="0.9"/>
<rect x="176.11" y="588" width="49.04" height="40.5" fill="#FF8C00" stroke="#222" stroke-width="0.9"/>
<rect x="225.14" y="588" width="49.04" height="40.5" fill="#FFC800" stroke="#222" stroke-width="0.9"/>
<rect x="274.18" y="588" width="49.04" height="40.5" fill="#FFFF00" stroke="#222" stroke-width="0.9"/>
<rect x="323.21" y="588" width="49.04" height="40.5" fill="#FFFFFF" stroke="#222" stroke-width="0.9"/>
<rect x="372.25" y="588" width="49.04" height="40.5" fill="#FFFFFF" stroke="#222" stroke-width="0.9"/>
<rect x="421.29" y="588" width="49.04" height="40.5" fill="#4BFFB4" stroke="#222" stroke-width="0.9"/>
<rect x="470.32" y="588" width="49.04" height="40.5" fill="#14FFEB" stroke="#222" stroke-width="0.9"/>
<rect x="519.36" y="588" width="49.04" height="40.5" fill="#00D7FF" stroke="#222" stroke-width="0.9"/>
<rect x="568.39" y="588" width="49.04" height="40.5" fill="#0096FF" stroke="#222" stroke-width="0.9"/>
<rect x="617.43" y="588" width="49.04" height="40.5" fill="#0A62FF" stroke="#222" stroke-width="0.9"/>
<rect x="666.46" y="588" width="49.04" height="40.5" fill="#0A28FF" stroke="#222" stroke-width="0.9"/>
<text x="54.5" y="655.2" class="lab" textLength="63.4" lengthAdjust="spacingAndGlyphs">−6.0</text>
<text x="153.0" y="655.2" class="lab" textLength="62.8" lengthAdjust="spacingAndGlyphs">−4.0</text>
<text x="250.6" y="655.2" class="lab" textLength="63.4" lengthAdjust="spacingAndGlyphs">−2.0</text>
<text x="365.5" y="655.2" class="lab" textLength="42.5" lengthAdjust="spacingAndGlyphs">0.0</text>
<text x="463.4" y="655.2" class="lab" textLength="43.0" lengthAdjust="spacingAndGlyphs">2.0</text>
<text x="561.1" y="655.2" class="lab" textLength="43.0" lengthAdjust="spacingAndGlyphs">4.0</text>
<text x="658.8" y="655.2" class="lab" textLength="43.0" lengthAdjust="spacingAndGlyphs">6.0</text>
</svg></body></html>
